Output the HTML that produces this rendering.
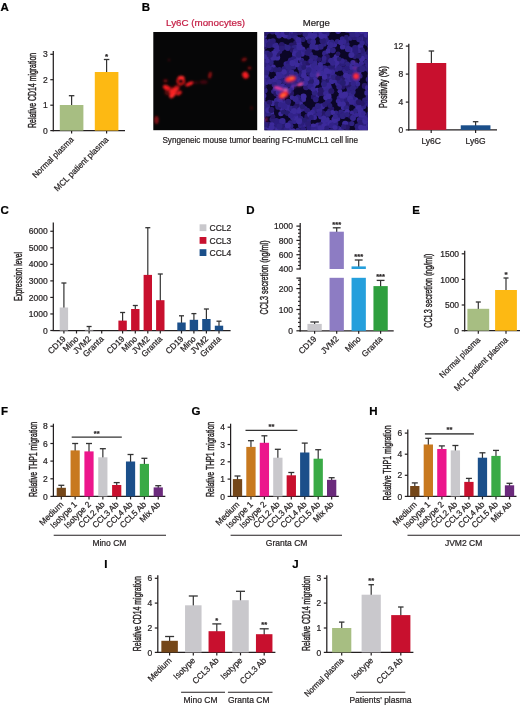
<!DOCTYPE html>
<html><head><meta charset="utf-8"><title>Figure</title>
<style>
html,body{margin:0;padding:0;background:#fff;}
body{width:520px;height:705px;overflow:hidden;font-family:"Liberation Sans",sans-serif;}
svg{display:block;font-family:"Liberation Sans",sans-serif;will-change:transform;}
svg text{stroke:currentColor;stroke-width:0.22px;paint-order:stroke fill;}
svg text.yl{stroke-width:0.42px;}
</style></head><body>
<svg width="520" height="705" viewBox="0 0 520 705">
<rect width="520" height="705" fill="#fff"/>
<text x="0.50" y="10.60" font-size="11.5" text-anchor="start" font-weight="bold" fill="#000" color="#000">A</text>
<line x1="53.30" y1="51.00" x2="53.30" y2="131.20" stroke="#231f20" stroke-width="1.25"/>
<line x1="50.30" y1="54.30" x2="53.30" y2="54.30" stroke="#231f20" stroke-width="1.2"/>
<text x="47.70" y="57.40" font-size="8.5" text-anchor="end" font-weight="normal" fill="#231f20" color="#231f20">3</text>
<line x1="50.30" y1="79.70" x2="53.30" y2="79.70" stroke="#231f20" stroke-width="1.2"/>
<text x="47.70" y="82.80" font-size="8.5" text-anchor="end" font-weight="normal" fill="#231f20" color="#231f20">2</text>
<line x1="50.30" y1="105.20" x2="53.30" y2="105.20" stroke="#231f20" stroke-width="1.2"/>
<text x="47.70" y="108.30" font-size="8.5" text-anchor="end" font-weight="normal" fill="#231f20" color="#231f20">1</text>
<line x1="50.30" y1="130.60" x2="53.30" y2="130.60" stroke="#231f20" stroke-width="1.2"/>
<text x="47.70" y="133.70" font-size="8.5" text-anchor="end" font-weight="normal" fill="#231f20" color="#231f20">0</text>
<line x1="52.70" y1="130.60" x2="125.00" y2="130.60" stroke="#231f20" stroke-width="1.25"/>
<line x1="71.60" y1="130.60" x2="71.60" y2="133.60" stroke="#231f20" stroke-width="1.2"/>
<line x1="106.60" y1="130.60" x2="106.60" y2="133.60" stroke="#231f20" stroke-width="1.2"/>
<line x1="71.60" y1="95.70" x2="71.60" y2="106.00" stroke="#333" stroke-width="1.2"/>
<line x1="68.85" y1="95.70" x2="74.35" y2="95.70" stroke="#333" stroke-width="1.3"/>
<rect x="59.80" y="105.00" width="23.60" height="25.60" fill="#a7be82"/>
<line x1="106.60" y1="59.50" x2="106.60" y2="73.00" stroke="#333" stroke-width="1.2"/>
<line x1="103.85" y1="59.50" x2="109.35" y2="59.50" stroke="#333" stroke-width="1.3"/>
<rect x="94.80" y="72.00" width="23.60" height="58.60" fill="#fdb913"/>
<text x="106.60" y="59.00" font-size="8" text-anchor="middle" font-weight="bold" fill="#231f20" color="#231f20">*</text>
<text x="36.00" y="90.40" font-size="11.5" text-anchor="middle" class="yl" fill="#231f20" color="#231f20" transform="rotate(-90 36.00 90.40)" textLength="75" lengthAdjust="spacingAndGlyphs">Relative CD14 migration</text>
<text transform="translate(74.10 140.20) rotate(-45) scale(0.95 1)" font-size="8.5" text-anchor="end" fill="#231f20" color="#231f20">Normal plasma</text>
<text transform="translate(109.10 140.20) rotate(-45) scale(0.97 1)" font-size="8.5" text-anchor="end" fill="#231f20" color="#231f20">MCL patient plasma</text>
<text x="141.70" y="10.60" font-size="11.5" text-anchor="start" font-weight="bold" fill="#000" color="#000">B</text>
<text x="205.60" y="25.60" font-size="9.6" text-anchor="middle" font-weight="normal" fill="#c41e45" color="#c41e45" textLength="79" lengthAdjust="spacingAndGlyphs">Ly6C (monocytes)</text>
<text x="316.30" y="25.60" font-size="9.6" text-anchor="middle" font-weight="normal" fill="#231f20" color="#231f20">Merge</text>
<defs><filter id="b1" x="-20%" y="-20%" width="140%" height="140%"><feGaussianBlur stdDeviation="0.9"/></filter><filter id="b2" x="-20%" y="-20%" width="140%" height="140%"><feGaussianBlur stdDeviation="0.6"/></filter><clipPath id="cL"><rect x="153.3" y="32" width="103.9" height="98.2"/></clipPath><clipPath id="cR"><rect x="264.4" y="32" width="103.5" height="98.2"/></clipPath></defs>
<rect x="153.3" y="32" width="103.9" height="98.2" fill="#060607"/>
<g clip-path="url(#cL)" filter="url(#b1)">
<circle cx="180.8" cy="81" r="3.2" fill="none" stroke="#e8151b" stroke-width="2.4" opacity="0.9"/>
<ellipse cx="181.2" cy="77.8" rx="3.4" ry="2.0" fill="#ff2a2a" opacity="1" transform="rotate(0 181.2 77.8)"/>
<ellipse cx="189.4" cy="83.9" rx="4.4" ry="1.9" fill="#f01c20" opacity="1" transform="rotate(-25 189.4 83.9)"/>
<ellipse cx="166.7" cy="87.7" rx="4.0" ry="2.4" fill="#f01c20" opacity="1" transform="rotate(25 166.7 87.7)"/>
<ellipse cx="174.0" cy="90.4" rx="5.2" ry="2.4" fill="#ff2a2a" opacity="1" transform="rotate(-30 174.0 90.4)"/>
<ellipse cx="172.6" cy="94.6" rx="4.2" ry="2.4" fill="#ff2a2a" opacity="1" transform="rotate(-50 172.6 94.6)"/>
<ellipse cx="179.0" cy="93.0" rx="3.2" ry="2.0" fill="#e8151b" opacity="0.95" transform="rotate(-35 179.0 93.0)"/>
<ellipse cx="177.0" cy="87.5" rx="3.0" ry="2.4" fill="#e8151b" opacity="0.6" transform="rotate(0 177.0 87.5)"/>
<ellipse cx="170.0" cy="91.0" rx="6.0" ry="4.0" fill="#e8151b" opacity="0.35" transform="rotate(-30 170.0 91.0)"/>
<ellipse cx="165.5" cy="80.8" rx="2.2" ry="1.6" fill="#e8151b" opacity="0.5" transform="rotate(0 165.5 80.8)"/>
<ellipse cx="210.0" cy="75.2" rx="1.7" ry="3.4" fill="#e8151b" opacity="0.6" transform="rotate(10 210.0 75.2)"/>
<ellipse cx="203.6" cy="82.0" rx="4.0" ry="2.0" fill="#e8151b" opacity="0.25" transform="rotate(0 203.6 82.0)"/>
<ellipse cx="196.0" cy="82.5" rx="3.0" ry="1.5" fill="#e8151b" opacity="0.18" transform="rotate(0 196.0 82.5)"/>
<ellipse cx="245.5" cy="75.2" rx="3.1" ry="3.6" fill="#f01c20" opacity="1" transform="rotate(-30 245.5 75.2)"/>
<ellipse cx="244.2" cy="59.5" rx="2.8" ry="1.9" fill="#e8151b" opacity="0.5" transform="rotate(-20 244.2 59.5)"/>
<ellipse cx="249.5" cy="68.0" rx="1.9" ry="1.6" fill="#e8151b" opacity="0.55" transform="rotate(0 249.5 68.0)"/>
<ellipse cx="251.5" cy="108.0" rx="1.4" ry="2.0" fill="#e8151b" opacity="0.22" transform="rotate(0 251.5 108.0)"/>
<ellipse cx="156.5" cy="120.0" rx="2.2" ry="4.0" fill="#e8151b" opacity="0.55" transform="rotate(0 156.5 120.0)"/>
<ellipse cx="169.0" cy="60.0" rx="1.4" ry="1.4" fill="#e8151b" opacity="0.18" transform="rotate(0 169.0 60.0)"/>
</g>
<rect x="264.4" y="32" width="103.5" height="98.2" fill="#0b0626"/>
<g clip-path="url(#cR)"><g filter="url(#b2)">
<circle cx="266.1" cy="82.0" r="3.0" fill="#382894"/>
<circle cx="346.2" cy="78.3" r="2.6" fill="#382894"/>
<circle cx="327.8" cy="102.1" r="3.0" fill="#2c1f7c"/>
<circle cx="309.3" cy="32.4" r="2.8" fill="#35268e"/>
<circle cx="262.1" cy="50.8" r="2.4" fill="#3a2a98"/>
<circle cx="325.8" cy="97.6" r="2.6" fill="#3d2c9c"/>
<circle cx="283.7" cy="103.2" r="3.1" fill="#35268e"/>
<circle cx="335.5" cy="80.4" r="2.8" fill="#3a2a98"/>
<circle cx="298.1" cy="83.6" r="2.5" fill="#281b70"/>
<circle cx="344.5" cy="112.8" r="2.4" fill="#35268e"/>
<circle cx="262.2" cy="59.6" r="3.0" fill="#2f2182"/>
<circle cx="293.1" cy="131.0" r="2.8" fill="#3d2c9c"/>
<circle cx="278.6" cy="96.1" r="2.7" fill="#33248a"/>
<circle cx="360.2" cy="47.1" r="3.1" fill="#3b2a9a"/>
<circle cx="315.1" cy="76.4" r="3.0" fill="#2c1f7c"/>
<circle cx="279.8" cy="30.0" r="2.8" fill="#3a2a98"/>
<circle cx="267.1" cy="53.4" r="3.0" fill="#2e2080"/>
<circle cx="352.2" cy="112.9" r="2.5" fill="#382894"/>
<circle cx="269.9" cy="41.5" r="2.7" fill="#2e2080"/>
<circle cx="336.2" cy="69.2" r="2.6" fill="#33248a"/>
<circle cx="348.1" cy="86.4" r="2.8" fill="#261968"/>
<circle cx="329.0" cy="125.6" r="2.5" fill="#3b2a9a"/>
<circle cx="281.6" cy="107.8" r="3.1" fill="#3b2a9a"/>
<circle cx="350.1" cy="30.2" r="3.1" fill="#382894"/>
<circle cx="363.3" cy="53.8" r="3.0" fill="#2e2080"/>
<circle cx="364.8" cy="100.1" r="2.7" fill="#2a1c74"/>
<circle cx="362.3" cy="116.8" r="2.8" fill="#3d2c9c"/>
<circle cx="306.9" cy="67.0" r="3.2" fill="#3b2a9a"/>
<circle cx="287.8" cy="104.8" r="2.6" fill="#33248a"/>
<circle cx="310.3" cy="54.1" r="2.6" fill="#2e2080"/>
<circle cx="366.0" cy="103.1" r="2.7" fill="#2c1f7c"/>
<circle cx="360.5" cy="114.1" r="3.2" fill="#3a2a98"/>
<circle cx="289.4" cy="129.3" r="2.4" fill="#3a2a98"/>
<circle cx="339.3" cy="98.0" r="2.6" fill="#33248a"/>
<circle cx="272.5" cy="103.3" r="2.8" fill="#3a2a98"/>
<circle cx="262.0" cy="132.3" r="2.8" fill="#2c1f7c"/>
<circle cx="327.2" cy="59.7" r="3.0" fill="#261968"/>
<circle cx="312.6" cy="38.5" r="2.5" fill="#3a2a98"/>
<circle cx="329.4" cy="78.6" r="3.0" fill="#2f2182"/>
<circle cx="282.3" cy="99.0" r="2.6" fill="#2a1c74"/>
<circle cx="362.5" cy="36.7" r="2.9" fill="#2f2182"/>
<circle cx="369.4" cy="95.0" r="2.8" fill="#3d2c9c"/>
<circle cx="277.1" cy="57.5" r="3.1" fill="#3b2a9a"/>
<circle cx="362.6" cy="119.8" r="2.6" fill="#35268e"/>
<circle cx="368.7" cy="79.6" r="3.0" fill="#2f2182"/>
<circle cx="353.5" cy="30.8" r="3.0" fill="#3d2c9c"/>
<circle cx="334.4" cy="59.0" r="2.4" fill="#382894"/>
<circle cx="301.1" cy="131.9" r="2.7" fill="#382894"/>
<circle cx="322.1" cy="106.3" r="3.1" fill="#382894"/>
<circle cx="348.4" cy="93.3" r="2.8" fill="#33248a"/>
<circle cx="329.2" cy="68.2" r="2.6" fill="#2a1c74"/>
<circle cx="368.3" cy="121.7" r="3.1" fill="#33248a"/>
<circle cx="356.1" cy="115.1" r="2.4" fill="#382894"/>
<circle cx="343.1" cy="97.7" r="3.0" fill="#3b2a9a"/>
<circle cx="317.4" cy="90.6" r="2.9" fill="#3d2c9c"/>
<circle cx="295.3" cy="74.1" r="2.7" fill="#2e2080"/>
<circle cx="298.5" cy="79.7" r="2.8" fill="#3a2a98"/>
<circle cx="316.3" cy="95.6" r="3.1" fill="#382894"/>
<circle cx="303.3" cy="79.3" r="3.0" fill="#2c1f7c"/>
<circle cx="350.0" cy="83.2" r="2.5" fill="#281b70"/>
<circle cx="282.5" cy="85.9" r="2.7" fill="#3a2a98"/>
<circle cx="298.7" cy="114.8" r="2.5" fill="#2a1c74"/>
<circle cx="349.6" cy="66.3" r="3.1" fill="#3b2a9a"/>
<circle cx="267.7" cy="128.3" r="3.0" fill="#3d2c9c"/>
<circle cx="289.7" cy="33.2" r="3.1" fill="#35268e"/>
<circle cx="302.3" cy="49.6" r="3.1" fill="#3b2a9a"/>
<circle cx="297.0" cy="45.5" r="2.5" fill="#3a2a98"/>
<circle cx="273.6" cy="91.6" r="2.5" fill="#2f2182"/>
<circle cx="323.6" cy="61.7" r="2.5" fill="#2e2080"/>
<circle cx="324.4" cy="68.4" r="3.2" fill="#33248a"/>
<circle cx="355.8" cy="110.6" r="2.6" fill="#2f2182"/>
<circle cx="354.7" cy="56.8" r="2.4" fill="#2a1c74"/>
<circle cx="367.6" cy="126.4" r="2.6" fill="#3a2a98"/>
<circle cx="360.1" cy="132.8" r="2.8" fill="#2f2182"/>
<circle cx="327.1" cy="123.1" r="3.2" fill="#382894"/>
<circle cx="349.9" cy="79.2" r="3.0" fill="#3a2a98"/>
<circle cx="355.7" cy="99.9" r="2.6" fill="#3a2a98"/>
<circle cx="287.4" cy="107.9" r="3.0" fill="#382894"/>
<circle cx="291.8" cy="45.7" r="3.2" fill="#261968"/>
<circle cx="361.9" cy="50.4" r="3.0" fill="#2a1c74"/>
<circle cx="369.4" cy="55.5" r="3.1" fill="#3a2a98"/>
<circle cx="332.8" cy="69.2" r="2.5" fill="#2c1f7c"/>
<circle cx="307.9" cy="37.5" r="2.9" fill="#3a2a98"/>
<circle cx="350.4" cy="116.2" r="2.5" fill="#261968"/>
<circle cx="285.0" cy="81.6" r="2.6" fill="#2f2182"/>
<circle cx="300.9" cy="100.7" r="2.9" fill="#281b70"/>
<circle cx="330.3" cy="122.6" r="2.7" fill="#3d2c9c"/>
<circle cx="324.5" cy="87.2" r="2.7" fill="#3b2a9a"/>
<circle cx="279.3" cy="121.9" r="2.8" fill="#2e2080"/>
<circle cx="336.0" cy="112.9" r="2.4" fill="#33248a"/>
<circle cx="301.6" cy="60.4" r="2.6" fill="#2e2080"/>
<circle cx="309.8" cy="41.2" r="2.7" fill="#2a1c74"/>
<circle cx="360.0" cy="76.0" r="2.6" fill="#2f2182"/>
<circle cx="338.0" cy="128.1" r="2.6" fill="#2c1f7c"/>
<circle cx="262.4" cy="67.5" r="3.2" fill="#2f2182"/>
<circle cx="330.7" cy="75.7" r="2.6" fill="#382894"/>
<circle cx="265.7" cy="104.0" r="2.7" fill="#33248a"/>
<circle cx="301.1" cy="125.7" r="3.1" fill="#2e2080"/>
<circle cx="301.2" cy="71.1" r="2.7" fill="#281b70"/>
<circle cx="346.7" cy="44.5" r="2.9" fill="#2f2182"/>
<circle cx="363.1" cy="125.1" r="2.9" fill="#2f2182"/>
<circle cx="327.4" cy="131.9" r="3.0" fill="#3a2a98"/>
<circle cx="304.8" cy="132.2" r="2.8" fill="#281b70"/>
<circle cx="317.9" cy="125.4" r="3.0" fill="#382894"/>
<circle cx="336.4" cy="56.7" r="2.7" fill="#3b2a9a"/>
<circle cx="305.0" cy="124.4" r="2.5" fill="#35268e"/>
<circle cx="294.3" cy="121.1" r="2.9" fill="#33248a"/>
<circle cx="276.8" cy="100.7" r="2.9" fill="#35268e"/>
<circle cx="359.5" cy="119.7" r="2.7" fill="#33248a"/>
<circle cx="278.3" cy="106.7" r="3.1" fill="#2a1c74"/>
<circle cx="335.1" cy="123.4" r="3.2" fill="#2e2080"/>
<circle cx="345.2" cy="61.7" r="2.4" fill="#2a1c74"/>
<circle cx="361.4" cy="63.4" r="2.6" fill="#382894"/>
<circle cx="295.9" cy="42.6" r="2.6" fill="#261968"/>
<circle cx="279.7" cy="101.6" r="3.2" fill="#3b2a9a"/>
<circle cx="308.6" cy="83.1" r="2.7" fill="#2f2182"/>
<circle cx="294.6" cy="77.5" r="2.9" fill="#2f2182"/>
<circle cx="314.8" cy="114.1" r="2.5" fill="#2f2182"/>
<circle cx="329.8" cy="88.2" r="2.6" fill="#2f2182"/>
<circle cx="323.5" cy="121.4" r="2.7" fill="#3b2a9a"/>
<circle cx="328.9" cy="42.4" r="2.7" fill="#3a2a98"/>
<circle cx="360.5" cy="122.8" r="3.0" fill="#2a1c74"/>
<circle cx="267.3" cy="78.8" r="2.8" fill="#2f2182"/>
<circle cx="325.7" cy="39.5" r="3.0" fill="#2f2182"/>
<circle cx="300.5" cy="118.4" r="2.7" fill="#2e2080"/>
<circle cx="338.6" cy="132.1" r="2.6" fill="#382894"/>
<circle cx="310.0" cy="66.1" r="3.0" fill="#3d2c9c"/>
<circle cx="272.4" cy="44.8" r="2.7" fill="#2e2080"/>
<circle cx="346.3" cy="37.1" r="2.4" fill="#281b70"/>
<circle cx="355.7" cy="86.3" r="2.7" fill="#2a1c74"/>
<circle cx="362.6" cy="40.1" r="2.6" fill="#35268e"/>
<circle cx="269.4" cy="102.5" r="2.8" fill="#261968"/>
<circle cx="262.3" cy="31.0" r="3.1" fill="#281b70"/>
<circle cx="309.0" cy="50.2" r="2.8" fill="#2a1c74"/>
<circle cx="348.3" cy="101.2" r="2.4" fill="#3b2a9a"/>
<circle cx="327.7" cy="74.4" r="2.5" fill="#2c1f7c"/>
<circle cx="262.6" cy="92.6" r="3.0" fill="#2c1f7c"/>
<circle cx="319.9" cy="67.7" r="3.1" fill="#3a2a98"/>
<circle cx="291.7" cy="88.6" r="2.5" fill="#35268e"/>
<circle cx="316.3" cy="82.2" r="3.2" fill="#3d2c9c"/>
<circle cx="276.1" cy="132.9" r="2.8" fill="#33248a"/>
<circle cx="329.5" cy="110.6" r="2.4" fill="#2a1c74"/>
<circle cx="352.8" cy="68.6" r="3.2" fill="#3b2a9a"/>
<circle cx="313.3" cy="126.3" r="2.9" fill="#3d2c9c"/>
<circle cx="267.4" cy="57.2" r="2.8" fill="#3b2a9a"/>
<circle cx="300.1" cy="104.4" r="2.9" fill="#3b2a9a"/>
<circle cx="365.3" cy="121.1" r="3.1" fill="#3b2a9a"/>
<circle cx="274.6" cy="128.3" r="2.9" fill="#33248a"/>
<circle cx="280.8" cy="113.7" r="2.5" fill="#3d2c9c"/>
<circle cx="363.6" cy="106.5" r="2.7" fill="#2f2182"/>
<circle cx="342.5" cy="77.9" r="2.6" fill="#261968"/>
<circle cx="285.9" cy="87.3" r="2.6" fill="#33248a"/>
<circle cx="276.8" cy="78.2" r="2.7" fill="#3d2c9c"/>
<circle cx="345.0" cy="101.3" r="2.8" fill="#2c1f7c"/>
<circle cx="364.7" cy="86.1" r="3.0" fill="#261968"/>
<circle cx="291.0" cy="75.7" r="2.7" fill="#3a2a98"/>
<circle cx="324.7" cy="90.5" r="3.2" fill="#382894"/>
<circle cx="301.5" cy="64.8" r="2.8" fill="#35268e"/>
<circle cx="320.7" cy="90.1" r="2.8" fill="#261968"/>
<circle cx="283.5" cy="128.3" r="3.1" fill="#281b70"/>
<circle cx="311.7" cy="130.0" r="3.2" fill="#33248a"/>
<circle cx="265.1" cy="69.2" r="2.7" fill="#33248a"/>
<circle cx="320.8" cy="73.3" r="3.0" fill="#3b2a9a"/>
<circle cx="294.4" cy="47.7" r="2.8" fill="#2f2182"/>
<circle cx="304.8" cy="108.7" r="2.6" fill="#2e2080"/>
<circle cx="320.8" cy="124.4" r="2.5" fill="#2a1c74"/>
<circle cx="324.1" cy="80.6" r="2.6" fill="#2a1c74"/>
<circle cx="362.1" cy="103.4" r="2.7" fill="#261968"/>
<circle cx="328.2" cy="82.1" r="2.6" fill="#281b70"/>
<circle cx="314.1" cy="80.0" r="3.0" fill="#3d2c9c"/>
<circle cx="275.6" cy="88.6" r="2.9" fill="#3a2a98"/>
<circle cx="342.2" cy="86.4" r="3.2" fill="#261968"/>
<circle cx="358.3" cy="106.8" r="3.1" fill="#3b2a9a"/>
<circle cx="353.0" cy="117.9" r="3.0" fill="#35268e"/>
<circle cx="292.3" cy="35.3" r="2.9" fill="#2c1f7c"/>
<circle cx="341.3" cy="129.2" r="2.5" fill="#3a2a98"/>
<circle cx="295.4" cy="117.4" r="2.9" fill="#3b2a9a"/>
<circle cx="313.0" cy="84.7" r="3.1" fill="#3a2a98"/>
<circle cx="276.2" cy="121.2" r="3.1" fill="#2c1f7c"/>
<circle cx="358.0" cy="129.9" r="3.0" fill="#2c1f7c"/>
<circle cx="316.5" cy="73.7" r="3.2" fill="#3d2c9c"/>
<circle cx="348.8" cy="132.4" r="2.9" fill="#2f2182"/>
<circle cx="369.4" cy="52.3" r="3.2" fill="#2a1c74"/>
<circle cx="342.3" cy="38.7" r="2.5" fill="#33248a"/>
<circle cx="276.7" cy="124.7" r="2.6" fill="#2c1f7c"/>
<circle cx="306.1" cy="87.3" r="3.0" fill="#2a1c74"/>
<circle cx="315.0" cy="62.8" r="2.5" fill="#35268e"/>
<circle cx="331.9" cy="81.3" r="2.8" fill="#3b2a9a"/>
<circle cx="335.3" cy="64.8" r="3.1" fill="#3a2a98"/>
<circle cx="291.2" cy="93.1" r="2.9" fill="#261968"/>
<circle cx="314.5" cy="117.4" r="2.5" fill="#382894"/>
<circle cx="287.8" cy="47.8" r="3.1" fill="#2e2080"/>
<circle cx="268.0" cy="64.3" r="2.9" fill="#33248a"/>
<circle cx="322.8" cy="131.5" r="2.5" fill="#3a2a98"/>
<circle cx="353.2" cy="73.8" r="2.8" fill="#33248a"/>
<circle cx="325.0" cy="53.5" r="2.9" fill="#33248a"/>
<circle cx="279.2" cy="86.8" r="2.5" fill="#382894"/>
<circle cx="342.7" cy="64.2" r="2.5" fill="#2c1f7c"/>
<circle cx="265.6" cy="75.3" r="2.8" fill="#3a2a98"/>
<circle cx="334.2" cy="44.5" r="2.9" fill="#382894"/>
<circle cx="317.9" cy="34.3" r="2.7" fill="#2c1f7c"/>
<circle cx="337.7" cy="118.8" r="2.6" fill="#382894"/>
<circle cx="281.2" cy="72.5" r="2.9" fill="#3a2a98"/>
<circle cx="331.9" cy="108.8" r="2.4" fill="#261968"/>
<circle cx="271.0" cy="59.3" r="2.8" fill="#2a1c74"/>
<circle cx="306.3" cy="31.1" r="2.9" fill="#33248a"/>
<circle cx="366.7" cy="57.0" r="2.6" fill="#33248a"/>
<circle cx="290.2" cy="111.4" r="2.4" fill="#3a2a98"/>
<circle cx="267.5" cy="106.8" r="2.7" fill="#2f2182"/>
<circle cx="281.8" cy="93.3" r="3.1" fill="#2f2182"/>
<circle cx="316.8" cy="47.5" r="3.1" fill="#382894"/>
<circle cx="353.1" cy="98.2" r="2.5" fill="#2f2182"/>
<circle cx="286.3" cy="64.1" r="2.8" fill="#33248a"/>
<circle cx="332.5" cy="112.4" r="2.5" fill="#3d2c9c"/>
<circle cx="276.0" cy="93.7" r="2.7" fill="#261968"/>
<circle cx="272.3" cy="119.5" r="2.8" fill="#2a1c74"/>
<circle cx="311.0" cy="81.2" r="2.9" fill="#281b70"/>
<circle cx="319.6" cy="131.2" r="2.9" fill="#3a2a98"/>
<circle cx="301.5" cy="83.3" r="3.0" fill="#2e2080"/>
<circle cx="288.9" cy="70.1" r="2.8" fill="#2f2182"/>
<circle cx="288.2" cy="101.8" r="3.0" fill="#2a1c74"/>
<circle cx="321.2" cy="32.2" r="2.8" fill="#3d2c9c"/>
<circle cx="345.6" cy="132.5" r="2.6" fill="#33248a"/>
<circle cx="268.8" cy="124.8" r="3.1" fill="#261968"/>
<circle cx="349.1" cy="76.3" r="2.7" fill="#3d2c9c"/>
<circle cx="358.5" cy="72.5" r="2.9" fill="#3a2a98"/>
<circle cx="369.9" cy="118.6" r="2.9" fill="#281b70"/>
<circle cx="346.7" cy="40.9" r="2.4" fill="#281b70"/>
<circle cx="275.7" cy="45.6" r="3.0" fill="#35268e"/>
<circle cx="347.1" cy="30.1" r="3.0" fill="#2a1c74"/>
<circle cx="362.0" cy="58.8" r="3.0" fill="#3d2c9c"/>
<circle cx="365.2" cy="32.0" r="2.6" fill="#382894"/>
<circle cx="315.5" cy="58.2" r="3.0" fill="#2e2080"/>
<circle cx="360.6" cy="110.2" r="2.9" fill="#3b2a9a"/>
<circle cx="344.0" cy="69.2" r="2.7" fill="#2c1f7c"/>
<circle cx="369.6" cy="45.5" r="2.8" fill="#2e2080"/>
<circle cx="264.3" cy="36.1" r="2.5" fill="#3a2a98"/>
<circle cx="334.1" cy="76.9" r="3.1" fill="#2e2080"/>
<circle cx="312.0" cy="69.0" r="3.1" fill="#3a2a98"/>
<circle cx="284.2" cy="30.3" r="2.9" fill="#2c1f7c"/>
<circle cx="343.5" cy="107.6" r="2.7" fill="#3a2a98"/>
<circle cx="309.6" cy="132.3" r="2.6" fill="#3d2c9c"/>
<circle cx="369.4" cy="132.4" r="2.6" fill="#3b2a9a"/>
<circle cx="298.7" cy="50.3" r="2.6" fill="#2f2182"/>
<circle cx="369.4" cy="129.0" r="2.6" fill="#35268e"/>
<circle cx="326.5" cy="33.5" r="3.1" fill="#2f2182"/>
<circle cx="278.1" cy="130.0" r="2.8" fill="#3b2a9a"/>
<circle cx="308.2" cy="120.3" r="2.7" fill="#2c1f7c"/>
<circle cx="292.0" cy="31.0" r="2.5" fill="#382894"/>
<circle cx="330.8" cy="60.6" r="2.8" fill="#35268e"/>
<circle cx="302.9" cy="30.8" r="2.7" fill="#2c1f7c"/>
<circle cx="262.4" cy="73.2" r="2.9" fill="#2f2182"/>
<circle cx="283.6" cy="124.7" r="2.9" fill="#281b70"/>
<circle cx="332.5" cy="72.3" r="2.7" fill="#382894"/>
<circle cx="314.1" cy="35.6" r="3.1" fill="#3b2a9a"/>
<circle cx="358.4" cy="50.9" r="2.5" fill="#35268e"/>
<circle cx="302.8" cy="39.4" r="2.6" fill="#281b70"/>
<circle cx="329.5" cy="71.7" r="2.4" fill="#3b2a9a"/>
<circle cx="292.4" cy="117.9" r="2.4" fill="#35268e"/>
<circle cx="324.1" cy="126.4" r="3.1" fill="#3d2c9c"/>
<circle cx="270.8" cy="62.5" r="2.9" fill="#2e2080"/>
<circle cx="301.4" cy="109.6" r="2.4" fill="#33248a"/>
<circle cx="339.9" cy="91.3" r="2.4" fill="#3d2c9c"/>
<circle cx="291.5" cy="85.3" r="2.5" fill="#3b2a9a"/>
<circle cx="338.1" cy="30.8" r="3.1" fill="#3d2c9c"/>
<circle cx="315.2" cy="109.5" r="3.1" fill="#2e2080"/>
<circle cx="356.3" cy="32.2" r="2.7" fill="#3a2a98"/>
<circle cx="280.8" cy="80.0" r="3.1" fill="#2c1f7c"/>
<circle cx="323.8" cy="43.7" r="3.0" fill="#2e2080"/>
<circle cx="304.2" cy="71.7" r="2.7" fill="#3a2a98"/>
<circle cx="292.3" cy="50.3" r="2.5" fill="#261968"/>
<circle cx="343.8" cy="41.7" r="2.6" fill="#35268e"/>
<circle cx="295.7" cy="51.0" r="2.8" fill="#35268e"/>
<circle cx="304.9" cy="63.2" r="2.7" fill="#2a1c74"/>
<circle cx="265.1" cy="32.9" r="3.0" fill="#261968"/>
<circle cx="263.7" cy="53.5" r="3.2" fill="#2f2182"/>
<circle cx="307.4" cy="116.5" r="3.0" fill="#261968"/>
<circle cx="349.7" cy="90.0" r="3.0" fill="#2e2080"/>
<circle cx="329.4" cy="30.0" r="2.6" fill="#2a1c74"/>
<circle cx="289.2" cy="63.4" r="3.1" fill="#2c1f7c"/>
<circle cx="263.5" cy="112.6" r="2.8" fill="#33248a"/>
<circle cx="297.9" cy="130.2" r="2.5" fill="#2e2080"/>
<circle cx="295.3" cy="114.1" r="2.5" fill="#33248a"/>
<circle cx="321.0" cy="116.5" r="2.9" fill="#382894"/>
<circle cx="325.0" cy="36.4" r="2.4" fill="#3b2a9a"/>
<circle cx="273.0" cy="41.0" r="2.8" fill="#2a1c74"/>
<circle cx="337.4" cy="41.5" r="2.6" fill="#2e2080"/>
<circle cx="369.4" cy="104.6" r="3.0" fill="#35268e"/>
<circle cx="327.0" cy="56.7" r="2.8" fill="#261968"/>
<circle cx="282.9" cy="76.0" r="2.5" fill="#35268e"/>
<circle cx="346.0" cy="82.7" r="3.0" fill="#3a2a98"/>
<circle cx="291.9" cy="82.3" r="2.8" fill="#35268e"/>
<circle cx="326.8" cy="119.6" r="2.9" fill="#3a2a98"/>
<circle cx="341.4" cy="101.0" r="2.8" fill="#33248a"/>
<circle cx="300.3" cy="67.8" r="3.0" fill="#2f2182"/>
<circle cx="324.4" cy="73.4" r="2.5" fill="#3a2a98"/>
<circle cx="271.5" cy="113.1" r="2.6" fill="#3d2c9c"/>
<circle cx="347.5" cy="96.6" r="2.7" fill="#2c1f7c"/>
<circle cx="339.4" cy="62.6" r="2.6" fill="#2c1f7c"/>
<circle cx="272.3" cy="130.6" r="2.6" fill="#281b70"/>
<circle cx="369.6" cy="71.1" r="2.8" fill="#281b70"/>
<circle cx="279.5" cy="51.0" r="2.9" fill="#2a1c74"/>
<circle cx="299.0" cy="43.2" r="2.5" fill="#3d2c9c"/>
<circle cx="268.9" cy="131.5" r="3.2" fill="#382894"/>
<circle cx="284.5" cy="46.7" r="2.9" fill="#2f2182"/>
<circle cx="332.0" cy="125.6" r="3.1" fill="#33248a"/>
<circle cx="303.6" cy="129.3" r="2.5" fill="#2c1f7c"/>
<circle cx="367.8" cy="88.0" r="2.9" fill="#382894"/>
<circle cx="293.2" cy="66.6" r="3.2" fill="#2e2080"/>
<circle cx="304.5" cy="51.9" r="2.7" fill="#33248a"/>
<circle cx="287.5" cy="113.3" r="2.7" fill="#281b70"/>
<circle cx="322.6" cy="40.8" r="3.1" fill="#2a1c74"/>
<circle cx="357.6" cy="83.8" r="2.6" fill="#35268e"/>
<circle cx="341.5" cy="132.9" r="2.8" fill="#3d2c9c"/>
<circle cx="262.5" cy="120.9" r="3.1" fill="#382894"/>
<circle cx="337.8" cy="83.6" r="2.7" fill="#382894"/>
<circle cx="366.5" cy="131.2" r="3.0" fill="#382894"/>
<circle cx="347.1" cy="104.4" r="2.9" fill="#261968"/>
<circle cx="264.5" cy="47.0" r="2.6" fill="#261968"/>
<circle cx="334.6" cy="119.8" r="3.2" fill="#3d2c9c"/>
<circle cx="329.5" cy="47.9" r="2.7" fill="#33248a"/>
<circle cx="322.3" cy="113.5" r="3.2" fill="#261968"/>
<circle cx="273.3" cy="67.0" r="2.5" fill="#3d2c9c"/>
<circle cx="360.8" cy="34.2" r="2.6" fill="#2c1f7c"/>
<circle cx="360.3" cy="66.4" r="2.9" fill="#35268e"/>
<circle cx="284.0" cy="132.7" r="3.0" fill="#33248a"/>
<circle cx="310.5" cy="86.6" r="3.1" fill="#33248a"/>
<circle cx="265.9" cy="44.0" r="2.9" fill="#3b2a9a"/>
<circle cx="365.9" cy="38.0" r="2.9" fill="#281b70"/>
<circle cx="301.8" cy="122.5" r="3.1" fill="#2c1f7c"/>
<circle cx="308.1" cy="63.1" r="2.5" fill="#261968"/>
<circle cx="336.4" cy="62.0" r="3.2" fill="#3d2c9c"/>
<circle cx="312.4" cy="111.9" r="2.5" fill="#382894"/>
<circle cx="287.7" cy="132.7" r="3.0" fill="#3b2a9a"/>
<circle cx="288.7" cy="36.7" r="2.7" fill="#2e2080"/>
<circle cx="355.3" cy="71.3" r="3.2" fill="#35268e"/>
<circle cx="327.7" cy="90.5" r="2.5" fill="#35268e"/>
<circle cx="307.3" cy="110.6" r="2.8" fill="#2a1c74"/>
<circle cx="310.7" cy="35.2" r="2.9" fill="#3a2a98"/>
<circle cx="286.6" cy="73.7" r="2.6" fill="#2f2182"/>
<circle cx="346.5" cy="108.1" r="2.8" fill="#2f2182"/>
<circle cx="295.9" cy="33.0" r="2.8" fill="#2a1c74"/>
<circle cx="290.4" cy="122.8" r="2.6" fill="#2e2080"/>
<circle cx="297.9" cy="108.2" r="2.5" fill="#3b2a9a"/>
<circle cx="275.9" cy="30.1" r="3.1" fill="#2f2182"/>
<circle cx="357.4" cy="79.0" r="2.8" fill="#382894"/>
<circle cx="361.5" cy="31.1" r="3.0" fill="#3b2a9a"/>
<circle cx="350.3" cy="38.2" r="2.5" fill="#2e2080"/>
<circle cx="278.3" cy="48.2" r="2.9" fill="#382894"/>
<circle cx="297.0" cy="105.2" r="2.7" fill="#261968"/>
<circle cx="351.4" cy="50.0" r="2.7" fill="#3d2c9c"/>
<circle cx="367.1" cy="43.6" r="2.5" fill="#2a1c74"/>
<circle cx="313.2" cy="41.9" r="2.8" fill="#35268e"/>
<circle cx="319.2" cy="70.8" r="2.4" fill="#3a2a98"/>
<circle cx="328.2" cy="50.9" r="2.6" fill="#3a2a98"/>
<circle cx="354.5" cy="36.9" r="3.2" fill="#2a1c74"/>
<circle cx="352.8" cy="78.2" r="2.9" fill="#35268e"/>
<circle cx="302.5" cy="106.6" r="2.7" fill="#281b70"/>
<circle cx="295.8" cy="132.5" r="2.4" fill="#2c1f7c"/>
<circle cx="285.3" cy="35.9" r="2.5" fill="#3a2a98"/>
<circle cx="315.8" cy="129.2" r="2.7" fill="#33248a"/>
<circle cx="291.0" cy="125.9" r="2.5" fill="#2e2080"/>
<circle cx="278.4" cy="82.6" r="3.0" fill="#35268e"/>
<circle cx="307.3" cy="53.0" r="2.7" fill="#2a1c74"/>
<circle cx="280.9" cy="132.2" r="3.1" fill="#2f2182"/>
<circle cx="355.4" cy="103.4" r="2.8" fill="#33248a"/>
<circle cx="359.0" cy="39.5" r="2.8" fill="#2e2080"/>
<circle cx="368.5" cy="31.0" r="2.9" fill="#3a2a98"/>
<circle cx="339.3" cy="67.9" r="2.9" fill="#2f2182"/>
<circle cx="286.4" cy="129.3" r="2.9" fill="#2f2182"/>
<circle cx="348.1" cy="49.0" r="3.2" fill="#35268e"/>
<circle cx="312.2" cy="57.3" r="2.8" fill="#2e2080"/>
<circle cx="303.7" cy="99.7" r="2.4" fill="#3a2a98"/>
<circle cx="284.5" cy="90.1" r="3.0" fill="#3d2c9c"/>
<circle cx="284.5" cy="68.8" r="2.9" fill="#2c1f7c"/>
<circle cx="302.1" cy="54.2" r="2.5" fill="#382894"/>
<circle cx="324.6" cy="77.0" r="2.8" fill="#3d2c9c"/>
<circle cx="294.7" cy="80.5" r="2.5" fill="#33248a"/>
<circle cx="339.2" cy="115.3" r="2.5" fill="#2c1f7c"/>
<circle cx="272.9" cy="116.4" r="2.5" fill="#261968"/>
<circle cx="365.5" cy="41.0" r="2.7" fill="#281b70"/>
<circle cx="292.1" cy="97.6" r="2.4" fill="#382894"/>
<circle cx="348.5" cy="123.9" r="2.5" fill="#261968"/>
<circle cx="265.0" cy="124.7" r="3.0" fill="#2c1f7c"/>
<circle cx="335.3" cy="116.5" r="2.6" fill="#35268e"/>
<circle cx="291.9" cy="79.0" r="3.0" fill="#2c1f7c"/>
<circle cx="345.2" cy="123.8" r="3.1" fill="#3b2a9a"/>
<circle cx="288.7" cy="83.9" r="3.1" fill="#2c1f7c"/>
<circle cx="290.6" cy="115.4" r="2.6" fill="#33248a"/>
<circle cx="262.3" cy="104.3" r="2.7" fill="#2c1f7c"/>
<circle cx="339.8" cy="80.9" r="3.0" fill="#2c1f7c"/>
<circle cx="319.4" cy="110.1" r="2.9" fill="#35268e"/>
<circle cx="266.6" cy="72.4" r="2.8" fill="#2e2080"/>
<circle cx="320.0" cy="127.7" r="2.5" fill="#3a2a98"/>
<circle cx="335.0" cy="131.4" r="2.9" fill="#281b70"/>
<circle cx="310.8" cy="77.2" r="2.6" fill="#2f2182"/>
<circle cx="346.9" cy="127.3" r="2.9" fill="#261968"/>
<circle cx="294.8" cy="83.9" r="2.6" fill="#2e2080"/>
<circle cx="351.6" cy="94.7" r="2.8" fill="#35268e"/>
<circle cx="305.2" cy="83.3" r="2.7" fill="#3b2a9a"/>
<circle cx="369.9" cy="90.7" r="3.1" fill="#2f2182"/>
<circle cx="356.3" cy="65.5" r="2.9" fill="#382894"/>
<circle cx="335.0" cy="127.4" r="2.5" fill="#3b2a9a"/>
<circle cx="283.4" cy="112.1" r="2.5" fill="#281b70"/>
<circle cx="346.0" cy="71.6" r="3.1" fill="#33248a"/>
<circle cx="309.0" cy="73.5" r="2.4" fill="#281b70"/>
<circle cx="295.1" cy="54.2" r="3.1" fill="#3b2a9a"/>
<circle cx="263.3" cy="80.1" r="2.4" fill="#3a2a98"/>
<circle cx="273.7" cy="80.5" r="2.6" fill="#382894"/>
<circle cx="341.0" cy="112.4" r="2.8" fill="#2e2080"/>
<circle cx="325.0" cy="104.5" r="2.7" fill="#2a1c74"/>
<circle cx="277.4" cy="54.1" r="2.6" fill="#261968"/>
<circle cx="318.9" cy="30.0" r="2.5" fill="#33248a"/>
<circle cx="312.5" cy="74.4" r="2.9" fill="#3a2a98"/>
<circle cx="281.3" cy="89.8" r="2.7" fill="#35268e"/>
<circle cx="270.1" cy="81.6" r="2.8" fill="#35268e"/>
<circle cx="369.8" cy="83.3" r="3.0" fill="#281b70"/>
<circle cx="264.7" cy="90.4" r="2.9" fill="#2f2182"/>
<circle cx="313.4" cy="96.9" r="2.6" fill="#261968"/>
<circle cx="342.1" cy="60.9" r="2.6" fill="#33248a"/>
<circle cx="276.1" cy="50.8" r="2.8" fill="#382894"/>
<circle cx="295.6" cy="37.4" r="2.5" fill="#2e2080"/>
<circle cx="353.0" cy="88.1" r="3.1" fill="#2f2182"/>
<circle cx="346.9" cy="68.1" r="2.8" fill="#2c1f7c"/>
<circle cx="342.9" cy="82.9" r="2.8" fill="#281b70"/>
<circle cx="347.3" cy="111.4" r="2.5" fill="#3d2c9c"/>
<circle cx="278.1" cy="73.1" r="2.5" fill="#382894"/>
<circle cx="268.9" cy="44.9" r="3.2" fill="#2a1c74"/>
<circle cx="355.6" cy="81.3" r="2.8" fill="#3a2a98"/>
<circle cx="262.4" cy="38.9" r="2.6" fill="#2f2182"/>
<circle cx="324.0" cy="58.2" r="2.5" fill="#33248a"/>
<circle cx="311.3" cy="30.1" r="2.4" fill="#281b70"/>
<circle cx="268.0" cy="113.5" r="3.1" fill="#2e2080"/>
<circle cx="331.3" cy="91.3" r="3.0" fill="#261968"/>
<circle cx="338.1" cy="101.1" r="2.4" fill="#382894"/>
<circle cx="264.9" cy="41.0" r="2.7" fill="#33248a"/>
<circle cx="303.5" cy="96.5" r="3.1" fill="#3b2a9a"/>
<circle cx="290.8" cy="60.5" r="2.9" fill="#2c1f7c"/>
<circle cx="288.8" cy="91.0" r="2.7" fill="#382894"/>
<circle cx="320.2" cy="64.7" r="2.7" fill="#3a2a98"/>
<circle cx="329.8" cy="105.6" r="2.5" fill="#281b70"/>
<circle cx="272.0" cy="124.3" r="2.4" fill="#3d2c9c"/>
<circle cx="293.7" cy="58.8" r="2.7" fill="#2c1f7c"/>
<circle cx="328.3" cy="85.5" r="3.1" fill="#382894"/>
<circle cx="314.1" cy="65.6" r="3.1" fill="#35268e"/>
<circle cx="297.5" cy="76.6" r="2.6" fill="#35268e"/>
<circle cx="363.2" cy="131.8" r="2.5" fill="#2f2182"/>
<circle cx="282.4" cy="121.1" r="3.2" fill="#35268e"/>
<circle cx="273.9" cy="53.4" r="3.0" fill="#3b2a9a"/>
<circle cx="263.3" cy="115.6" r="2.6" fill="#33248a"/>
<circle cx="295.7" cy="61.4" r="2.6" fill="#382894"/>
<circle cx="325.4" cy="115.4" r="2.5" fill="#281b70"/>
<circle cx="362.1" cy="43.1" r="2.7" fill="#35268e"/>
<circle cx="265.4" cy="131.1" r="2.5" fill="#281b70"/>
<circle cx="310.1" cy="114.4" r="3.0" fill="#3b2a9a"/>
<circle cx="263.8" cy="86.5" r="2.7" fill="#261968"/>
<circle cx="297.8" cy="97.1" r="2.5" fill="#2c1f7c"/>
<circle cx="272.6" cy="31.6" r="3.0" fill="#2a1c74"/>
<circle cx="308.1" cy="123.8" r="2.9" fill="#2a1c74"/>
<circle cx="350.0" cy="98.4" r="3.0" fill="#3a2a98"/>
<circle cx="299.1" cy="121.2" r="3.1" fill="#3a2a98"/>
<circle cx="284.4" cy="106.5" r="3.0" fill="#33248a"/>
<circle cx="315.8" cy="99.4" r="2.8" fill="#2c1f7c"/>
<circle cx="341.4" cy="95.1" r="2.9" fill="#3d2c9c"/>
<circle cx="306.8" cy="78.8" r="2.8" fill="#3d2c9c"/>
<circle cx="321.5" cy="36.1" r="2.9" fill="#3d2c9c"/>
<circle cx="332.5" cy="66.1" r="2.5" fill="#281b70"/>
<circle cx="287.8" cy="125.4" r="3.0" fill="#3b2a9a"/>
<circle cx="273.3" cy="57.4" r="3.1" fill="#3a2a98"/>
<circle cx="328.0" cy="113.7" r="3.1" fill="#2e2080"/>
<circle cx="370.0" cy="75.8" r="2.6" fill="#382894"/>
<circle cx="357.1" cy="35.1" r="2.4" fill="#33248a"/>
<circle cx="300.5" cy="74.9" r="2.5" fill="#2c1f7c"/>
<circle cx="304.5" cy="119.9" r="2.5" fill="#281b70"/>
<circle cx="339.1" cy="87.0" r="2.8" fill="#33248a"/>
<circle cx="364.2" cy="128.5" r="2.8" fill="#3d2c9c"/>
<circle cx="299.5" cy="47.2" r="3.2" fill="#3a2a98"/>
<circle cx="355.2" cy="52.2" r="3.1" fill="#2c1f7c"/>
<circle cx="319.2" cy="59.7" r="2.4" fill="#261968"/>
<circle cx="298.4" cy="40.1" r="3.0" fill="#382894"/>
<circle cx="357.3" cy="126.2" r="2.8" fill="#2c1f7c"/>
<circle cx="367.1" cy="92.9" r="2.8" fill="#3b2a9a"/>
<circle cx="291.6" cy="72.1" r="2.7" fill="#35268e"/>
<circle cx="355.2" cy="48.1" r="3.1" fill="#2c1f7c"/>
<circle cx="360.8" cy="127.3" r="2.6" fill="#3d2c9c"/>
<circle cx="281.8" cy="44.9" r="2.9" fill="#261968"/>
<circle cx="291.6" cy="108.4" r="2.7" fill="#2f2182"/>
<circle cx="359.3" cy="69.5" r="2.8" fill="#281b70"/>
<circle cx="338.0" cy="53.8" r="2.4" fill="#261968"/>
<circle cx="262.0" cy="77.3" r="3.0" fill="#35268e"/>
<circle cx="308.9" cy="69.9" r="2.7" fill="#2f2182"/>
<circle cx="366.8" cy="117.9" r="3.0" fill="#382894"/>
<circle cx="319.7" cy="93.9" r="2.4" fill="#261968"/>
<circle cx="363.5" cy="113.5" r="2.4" fill="#382894"/>
<circle cx="326.8" cy="128.0" r="2.6" fill="#2c1f7c"/>
<circle cx="352.4" cy="34.5" r="3.1" fill="#2e2080"/>
<circle cx="278.8" cy="92.3" r="3.1" fill="#3a2a98"/>
<circle cx="369.2" cy="41.4" r="3.0" fill="#35268e"/>
<circle cx="298.8" cy="111.2" r="2.5" fill="#3b2a9a"/>
<circle cx="282.7" cy="34.3" r="2.8" fill="#3d2c9c"/>
<circle cx="340.9" cy="42.5" r="2.8" fill="#382894"/>
<circle cx="351.8" cy="123.5" r="2.6" fill="#2e2080"/>
<circle cx="364.8" cy="67.3" r="3.1" fill="#281b70"/>
<circle cx="264.0" cy="64.1" r="2.8" fill="#2c1f7c"/>
<circle cx="358.8" cy="56.0" r="2.7" fill="#281b70"/>
<circle cx="279.3" cy="76.0" r="3.1" fill="#382894"/>
<circle cx="331.9" cy="42.1" r="2.6" fill="#2e2080"/>
<circle cx="262.2" cy="43.1" r="3.1" fill="#35268e"/>
<circle cx="345.8" cy="75.4" r="2.7" fill="#3d2c9c"/>
<circle cx="353.4" cy="132.6" r="2.7" fill="#382894"/>
<circle cx="276.8" cy="104.1" r="2.5" fill="#281b70"/>
<circle cx="284.1" cy="72.0" r="2.7" fill="#3d2c9c"/>
<circle cx="269.8" cy="54.8" r="3.0" fill="#2a1c74"/>
<circle cx="314.5" cy="92.7" r="2.8" fill="#2e2080"/>
<circle cx="347.5" cy="64.1" r="2.5" fill="#2f2182"/>
<circle cx="262.0" cy="128.9" r="2.7" fill="#382894"/>
<circle cx="322.7" cy="93.1" r="2.9" fill="#261968"/>
<circle cx="288.9" cy="30.3" r="3.0" fill="#33248a"/>
<circle cx="279.4" cy="126.4" r="3.1" fill="#2f2182"/>
<circle cx="344.9" cy="94.7" r="3.1" fill="#3d2c9c"/>
<circle cx="264.4" cy="56.5" r="2.4" fill="#3b2a9a"/>
<circle cx="267.9" cy="31.2" r="2.6" fill="#2c1f7c"/>
<circle cx="367.2" cy="69.3" r="2.4" fill="#2e2080"/>
<circle cx="353.3" cy="83.4" r="2.7" fill="#33248a"/>
<circle cx="286.7" cy="32.4" r="2.6" fill="#281b70"/>
<circle cx="297.4" cy="101.5" r="2.5" fill="#33248a"/>
<circle cx="294.7" cy="108.0" r="2.7" fill="#2a1c74"/>
<circle cx="332.9" cy="50.3" r="2.9" fill="#2e2080"/>
<circle cx="271.4" cy="69.5" r="2.8" fill="#2c1f7c"/>
<circle cx="340.0" cy="104.1" r="2.7" fill="#3d2c9c"/>
<circle cx="277.3" cy="33.0" r="2.5" fill="#3a2a98"/>
<circle cx="339.1" cy="59.1" r="2.4" fill="#281b70"/>
<circle cx="281.8" cy="48.3" r="2.8" fill="#2a1c74"/>
<circle cx="315.2" cy="31.6" r="2.5" fill="#35268e"/>
<circle cx="353.2" cy="92.1" r="2.5" fill="#2e2080"/>
<circle cx="369.7" cy="101.6" r="2.9" fill="#35268e"/>
<circle cx="343.4" cy="103.9" r="2.5" fill="#3b2a9a"/>
<circle cx="279.4" cy="69.6" r="2.6" fill="#281b70"/>
<circle cx="287.3" cy="78.9" r="3.2" fill="#35268e"/>
<circle cx="332.7" cy="63.0" r="2.7" fill="#35268e"/>
<circle cx="324.1" cy="31.1" r="2.9" fill="#2c1f7c"/>
<circle cx="324.0" cy="84.1" r="3.0" fill="#2f2182"/>
<circle cx="271.4" cy="127.5" r="2.8" fill="#3b2a9a"/>
<circle cx="275.7" cy="69.7" r="2.7" fill="#281b70"/>
<circle cx="342.7" cy="115.9" r="3.1" fill="#2e2080"/>
<circle cx="312.5" cy="46.4" r="3.2" fill="#35268e"/>
<circle cx="325.9" cy="93.4" r="2.7" fill="#382894"/>
<circle cx="351.4" cy="55.0" r="3.0" fill="#3a2a98"/>
<circle cx="299.5" cy="31.9" r="3.0" fill="#261968"/>
<circle cx="343.7" cy="127.0" r="2.7" fill="#2a1c74"/>
<circle cx="262.5" cy="83.5" r="3.2" fill="#35268e"/>
<circle cx="330.8" cy="45.1" r="3.1" fill="#35268e"/>
<circle cx="351.7" cy="101.9" r="2.9" fill="#382894"/>
<circle cx="329.9" cy="99.5" r="2.5" fill="#2c1f7c"/>
<circle cx="305.1" cy="34.3" r="2.6" fill="#2e2080"/>
<circle cx="356.7" cy="132.9" r="2.9" fill="#2c1f7c"/>
<circle cx="314.0" cy="71.2" r="2.5" fill="#382894"/>
<circle cx="342.6" cy="46.9" r="2.7" fill="#3a2a98"/>
<circle cx="314.6" cy="132.0" r="2.5" fill="#382894"/>
<circle cx="263.7" cy="95.7" r="2.7" fill="#3d2c9c"/>
<circle cx="369.6" cy="61.1" r="2.9" fill="#3d2c9c"/>
<circle cx="366.3" cy="61.9" r="2.5" fill="#2f2182"/>
<circle cx="288.1" cy="66.5" r="3.0" fill="#2f2182"/>
<circle cx="337.8" cy="78.1" r="2.7" fill="#261968"/>
<circle cx="323.7" cy="118.3" r="2.7" fill="#3a2a98"/>
<circle cx="292.5" cy="63.0" r="3.1" fill="#3b2a9a"/>
<circle cx="274.4" cy="84.7" r="2.8" fill="#2f2182"/>
<circle cx="267.4" cy="60.9" r="2.4" fill="#3a2a98"/>
<circle cx="320.7" cy="46.7" r="3.0" fill="#2e2080"/>
<circle cx="264.0" cy="109.0" r="2.9" fill="#2f2182"/>
<circle cx="294.0" cy="111.0" r="3.1" fill="#3a2a98"/>
<circle cx="297.1" cy="64.8" r="2.5" fill="#3b2a9a"/>
<circle cx="347.1" cy="114.6" r="2.6" fill="#2e2080"/>
<circle cx="298.6" cy="58.0" r="2.6" fill="#3a2a98"/>
<circle cx="366.7" cy="35.0" r="2.8" fill="#3a2a98"/>
<circle cx="268.3" cy="110.2" r="2.9" fill="#3a2a98"/>
<circle cx="313.1" cy="89.1" r="2.6" fill="#382894"/>
<circle cx="303.9" cy="75.3" r="2.8" fill="#3d2c9c"/>
<circle cx="295.5" cy="99.0" r="3.0" fill="#35268e"/>
<circle cx="303.9" cy="67.4" r="2.4" fill="#281b70"/>
<circle cx="263.0" cy="98.9" r="2.6" fill="#3d2c9c"/>
<circle cx="350.4" cy="72.1" r="2.5" fill="#2f2182"/>
<circle cx="268.5" cy="67.9" r="2.8" fill="#35268e"/>
<circle cx="362.3" cy="68.9" r="3.1" fill="#2e2080"/>
<circle cx="317.9" cy="106.1" r="3.0" fill="#2e2080"/>
<circle cx="271.4" cy="110.0" r="2.9" fill="#261968"/>
<circle cx="319.3" cy="114.0" r="2.7" fill="#33248a"/>
<circle cx="279.1" cy="35.7" r="2.7" fill="#382894"/>
<circle cx="310.9" cy="60.9" r="2.6" fill="#33248a"/>
<circle cx="369.3" cy="114.7" r="3.1" fill="#2c1f7c"/>
<circle cx="358.9" cy="102.2" r="3.0" fill="#261968"/>
<circle cx="352.9" cy="62.5" r="2.6" fill="#3a2a98"/>
<circle cx="311.2" cy="117.4" r="2.6" fill="#2c1f7c"/>
<circle cx="370.0" cy="33.9" r="3.1" fill="#382894"/>
<circle cx="326.6" cy="70.9" r="3.0" fill="#3d2c9c"/>
<circle cx="331.0" cy="131.4" r="3.0" fill="#2f2182"/>
<circle cx="298.6" cy="54.8" r="3.0" fill="#2f2182"/>
<circle cx="367.9" cy="97.7" r="2.5" fill="#2f2182"/>
<circle cx="369.8" cy="37.5" r="2.9" fill="#2f2182"/>
<circle cx="316.7" cy="67.8" r="2.6" fill="#382894"/>
<circle cx="368.1" cy="65.3" r="2.7" fill="#33248a"/>
<circle cx="328.6" cy="96.2" r="2.9" fill="#3d2c9c"/>
<circle cx="355.5" cy="76.3" r="3.0" fill="#2c1f7c"/>
<circle cx="308.8" cy="127.9" r="2.5" fill="#2c1f7c"/>
<circle cx="280.6" cy="104.7" r="2.7" fill="#33248a"/>
</g>
<g filter="url(#b1)">
<ellipse cx="290.6" cy="79.2" rx="6.3" ry="3.8" fill="#c02070" opacity="0.55" transform="rotate(-15 290.6 79.2)"/>
<ellipse cx="290.6" cy="78.8" rx="5.1" ry="2.5" fill="#ff3030" opacity="1" transform="rotate(-15 290.6 78.8)"/>
<ellipse cx="291.6" cy="77.9" rx="2.1" ry="1.1" fill="#ff7a40" opacity="0.9" transform="rotate(-15 291.6 77.9)"/>
<ellipse cx="283.6" cy="94.9" rx="5.9" ry="3.8" fill="#c02070" opacity="0.55" transform="rotate(-30 283.6 94.9)"/>
<ellipse cx="283.6" cy="94.9" rx="4.7" ry="2.8" fill="#ff2f2f" opacity="1" transform="rotate(-30 283.6 94.9)"/>
<ellipse cx="283.2" cy="95.3" rx="1.9" ry="1.3" fill="#ff8040" opacity="0.9" transform="rotate(-30 283.2 95.3)"/>
<ellipse cx="278.9" cy="88.3" rx="5.1" ry="1.7" fill="#f03a9a" opacity="0.95" transform="rotate(15 278.9 88.3)"/>
<ellipse cx="285.7" cy="89.8" rx="2.5" ry="1.3" fill="#ff6aa8" opacity="0.9" transform="rotate(0 285.7 89.8)"/>
<ellipse cx="300.1" cy="84.3" rx="3.4" ry="1.5" fill="#f04a9a" opacity="0.95" transform="rotate(-20 300.1 84.3)"/>
<ellipse cx="293.7" cy="86.2" rx="2.1" ry="2.1" fill="#7a30b0" opacity="0.7" transform="rotate(0 293.7 86.2)"/>
<ellipse cx="356.1" cy="76.2" rx="3.8" ry="4.0" fill="#a02080" opacity="0.5" transform="rotate(0 356.1 76.2)"/>
<ellipse cx="356.1" cy="76.2" rx="2.8" ry="3.0" fill="#ff2a3a" opacity="1" transform="rotate(0 356.1 76.2)"/>
<ellipse cx="355.1" cy="68.2" rx="2.1" ry="1.3" fill="#a030a0" opacity="0.6" transform="rotate(0 355.1 68.2)"/>
<ellipse cx="318.1" cy="75.0" rx="0.8" ry="2.5" fill="#d040a0" opacity="0.8" transform="rotate(10 318.1 75.0)"/>
<ellipse cx="266.2" cy="119.4" rx="1.1" ry="2.1" fill="#c02060" opacity="0.8" transform="rotate(0 266.2 119.4)"/>
<ellipse cx="355.1" cy="61.8" rx="1.7" ry="1.1" fill="#8030a0" opacity="0.5" transform="rotate(0 355.1 61.8)"/>
</g></g>
<text x="260.20" y="143.00" font-size="8.4" text-anchor="middle" font-weight="normal" fill="#231f20" color="#231f20" textLength="195.6" lengthAdjust="spacingAndGlyphs">Syngeneic mouse tumor bearing FC-muMCL1 cell line</text>
<line x1="408.80" y1="43.70" x2="408.80" y2="130.50" stroke="#231f20" stroke-width="1.25"/>
<line x1="405.80" y1="46.10" x2="408.80" y2="46.10" stroke="#231f20" stroke-width="1.2"/>
<text x="403.20" y="49.20" font-size="8.5" text-anchor="end" font-weight="normal" fill="#231f20" color="#231f20">12</text>
<line x1="405.80" y1="74.10" x2="408.80" y2="74.10" stroke="#231f20" stroke-width="1.2"/>
<text x="403.20" y="77.20" font-size="8.5" text-anchor="end" font-weight="normal" fill="#231f20" color="#231f20">8</text>
<line x1="405.80" y1="102.10" x2="408.80" y2="102.10" stroke="#231f20" stroke-width="1.2"/>
<text x="403.20" y="105.20" font-size="8.5" text-anchor="end" font-weight="normal" fill="#231f20" color="#231f20">4</text>
<line x1="405.80" y1="129.90" x2="408.80" y2="129.90" stroke="#231f20" stroke-width="1.2"/>
<text x="403.20" y="133.00" font-size="8.5" text-anchor="end" font-weight="normal" fill="#231f20" color="#231f20">0</text>
<line x1="408.20" y1="129.90" x2="497.00" y2="129.90" stroke="#231f20" stroke-width="1.25"/>
<line x1="431.20" y1="129.90" x2="431.20" y2="132.90" stroke="#231f20" stroke-width="1.2"/>
<line x1="475.60" y1="129.90" x2="475.60" y2="132.90" stroke="#231f20" stroke-width="1.2"/>
<line x1="431.40" y1="51.00" x2="431.40" y2="64.00" stroke="#333" stroke-width="1.2"/>
<line x1="428.65" y1="51.00" x2="434.15" y2="51.00" stroke="#333" stroke-width="1.3"/>
<rect x="416.55" y="63.00" width="29.70" height="66.90" fill="#c8102e"/>
<line x1="475.60" y1="121.70" x2="475.60" y2="126.30" stroke="#333" stroke-width="1.2"/>
<line x1="472.85" y1="121.70" x2="478.35" y2="121.70" stroke="#333" stroke-width="1.3"/>
<rect x="460.75" y="125.30" width="29.70" height="4.60" fill="#1b4f8a"/>
<text x="387.00" y="87.00" font-size="11.5" text-anchor="middle" class="yl" fill="#231f20" color="#231f20" transform="rotate(-90 387.00 87.00)" textLength="42" lengthAdjust="spacingAndGlyphs">Positivity (%)</text>
<text x="431.20" y="144.00" font-size="8.5" text-anchor="middle" font-weight="normal" fill="#231f20" color="#231f20">Ly6C</text>
<text x="475.60" y="144.00" font-size="8.5" text-anchor="middle" font-weight="normal" fill="#231f20" color="#231f20">Ly6G</text>
<text x="0.40" y="214.00" font-size="11.5" text-anchor="start" font-weight="bold" fill="#000" color="#000">C</text>
<line x1="53.30" y1="222.50" x2="53.30" y2="331.10" stroke="#231f20" stroke-width="1.25"/>
<line x1="50.30" y1="330.50" x2="53.30" y2="330.50" stroke="#231f20" stroke-width="1.2"/>
<text x="47.70" y="333.60" font-size="8.5" text-anchor="end" font-weight="normal" fill="#231f20" color="#231f20">0</text>
<line x1="50.30" y1="313.96" x2="53.30" y2="313.96" stroke="#231f20" stroke-width="1.2"/>
<text x="47.70" y="317.06" font-size="8.5" text-anchor="end" font-weight="normal" fill="#231f20" color="#231f20">1000</text>
<line x1="50.30" y1="297.42" x2="53.30" y2="297.42" stroke="#231f20" stroke-width="1.2"/>
<text x="47.70" y="300.52" font-size="8.5" text-anchor="end" font-weight="normal" fill="#231f20" color="#231f20">2000</text>
<line x1="50.30" y1="280.88" x2="53.30" y2="280.88" stroke="#231f20" stroke-width="1.2"/>
<text x="47.70" y="283.98" font-size="8.5" text-anchor="end" font-weight="normal" fill="#231f20" color="#231f20">3000</text>
<line x1="50.30" y1="264.34" x2="53.30" y2="264.34" stroke="#231f20" stroke-width="1.2"/>
<text x="47.70" y="267.44" font-size="8.5" text-anchor="end" font-weight="normal" fill="#231f20" color="#231f20">4000</text>
<line x1="50.30" y1="247.80" x2="53.30" y2="247.80" stroke="#231f20" stroke-width="1.2"/>
<text x="47.70" y="250.90" font-size="8.5" text-anchor="end" font-weight="normal" fill="#231f20" color="#231f20">5000</text>
<line x1="50.30" y1="231.26" x2="53.30" y2="231.26" stroke="#231f20" stroke-width="1.2"/>
<text x="47.70" y="234.36" font-size="8.5" text-anchor="end" font-weight="normal" fill="#231f20" color="#231f20">6000</text>
<line x1="52.70" y1="330.50" x2="230.60" y2="330.50" stroke="#231f20" stroke-width="1.25"/>
<line x1="63.90" y1="330.50" x2="63.90" y2="333.50" stroke="#231f20" stroke-width="1.2"/>
<line x1="76.50" y1="330.50" x2="76.50" y2="333.50" stroke="#231f20" stroke-width="1.2"/>
<line x1="89.10" y1="330.50" x2="89.10" y2="333.50" stroke="#231f20" stroke-width="1.2"/>
<line x1="101.70" y1="330.50" x2="101.70" y2="333.50" stroke="#231f20" stroke-width="1.2"/>
<line x1="122.60" y1="330.50" x2="122.60" y2="333.50" stroke="#231f20" stroke-width="1.2"/>
<line x1="135.30" y1="330.50" x2="135.30" y2="333.50" stroke="#231f20" stroke-width="1.2"/>
<line x1="147.80" y1="330.50" x2="147.80" y2="333.50" stroke="#231f20" stroke-width="1.2"/>
<line x1="160.30" y1="330.50" x2="160.30" y2="333.50" stroke="#231f20" stroke-width="1.2"/>
<line x1="181.50" y1="330.50" x2="181.50" y2="333.50" stroke="#231f20" stroke-width="1.2"/>
<line x1="193.90" y1="330.50" x2="193.90" y2="333.50" stroke="#231f20" stroke-width="1.2"/>
<line x1="206.40" y1="330.50" x2="206.40" y2="333.50" stroke="#231f20" stroke-width="1.2"/>
<line x1="219.00" y1="330.50" x2="219.00" y2="333.50" stroke="#231f20" stroke-width="1.2"/>
<line x1="63.90" y1="283.00" x2="63.90" y2="308.50" stroke="#333" stroke-width="1.2"/>
<line x1="61.40" y1="283.00" x2="66.40" y2="283.00" stroke="#333" stroke-width="1.3"/>
<rect x="59.70" y="307.50" width="8.40" height="23.00" fill="#c9c8cc"/>
<line x1="89.10" y1="326.50" x2="89.10" y2="330.80" stroke="#333" stroke-width="1.2"/>
<line x1="86.60" y1="326.50" x2="91.60" y2="326.50" stroke="#333" stroke-width="1.3"/>
<rect x="84.90" y="329.80" width="8.40" height="0.70" fill="#c9c8cc"/>
<line x1="122.60" y1="312.50" x2="122.60" y2="321.60" stroke="#333" stroke-width="1.2"/>
<line x1="120.10" y1="312.50" x2="125.10" y2="312.50" stroke="#333" stroke-width="1.3"/>
<rect x="118.40" y="320.60" width="8.40" height="9.90" fill="#c8102e"/>
<line x1="135.30" y1="305.50" x2="135.30" y2="310.00" stroke="#333" stroke-width="1.2"/>
<line x1="132.80" y1="305.50" x2="137.80" y2="305.50" stroke="#333" stroke-width="1.3"/>
<rect x="131.10" y="309.00" width="8.40" height="21.50" fill="#c8102e"/>
<line x1="147.80" y1="227.70" x2="147.80" y2="275.90" stroke="#333" stroke-width="1.2"/>
<line x1="145.30" y1="227.70" x2="150.30" y2="227.70" stroke="#333" stroke-width="1.3"/>
<rect x="143.60" y="274.90" width="8.40" height="55.60" fill="#c8102e"/>
<line x1="160.30" y1="274.00" x2="160.30" y2="301.20" stroke="#333" stroke-width="1.2"/>
<line x1="157.80" y1="274.00" x2="162.80" y2="274.00" stroke="#333" stroke-width="1.3"/>
<rect x="156.10" y="300.20" width="8.40" height="30.30" fill="#c8102e"/>
<line x1="181.50" y1="315.80" x2="181.50" y2="323.50" stroke="#333" stroke-width="1.2"/>
<line x1="179.00" y1="315.80" x2="184.00" y2="315.80" stroke="#333" stroke-width="1.3"/>
<rect x="177.30" y="322.50" width="8.40" height="8.00" fill="#1b4f8a"/>
<line x1="193.90" y1="313.60" x2="193.90" y2="320.80" stroke="#333" stroke-width="1.2"/>
<line x1="191.40" y1="313.60" x2="196.40" y2="313.60" stroke="#333" stroke-width="1.3"/>
<rect x="189.70" y="319.80" width="8.40" height="10.70" fill="#1b4f8a"/>
<line x1="206.40" y1="309.00" x2="206.40" y2="320.00" stroke="#333" stroke-width="1.2"/>
<line x1="203.90" y1="309.00" x2="208.90" y2="309.00" stroke="#333" stroke-width="1.3"/>
<rect x="202.20" y="319.00" width="8.40" height="11.50" fill="#1b4f8a"/>
<line x1="219.00" y1="321.20" x2="219.00" y2="326.70" stroke="#333" stroke-width="1.2"/>
<line x1="216.50" y1="321.20" x2="221.50" y2="321.20" stroke="#333" stroke-width="1.3"/>
<rect x="214.80" y="325.70" width="8.40" height="4.80" fill="#1b4f8a"/>
<text x="21.50" y="276.50" font-size="11.5" text-anchor="middle" class="yl" fill="#231f20" color="#231f20" transform="rotate(-90 21.50 276.50)" textLength="49" lengthAdjust="spacingAndGlyphs">Expression level</text>
<text transform="translate(66.40 339.50) rotate(-45) scale(0.98 1)" font-size="8.5" text-anchor="end" fill="#231f20" color="#231f20">CD19</text>
<text transform="translate(79.00 339.50) rotate(-45) scale(0.98 1)" font-size="8.5" text-anchor="end" fill="#231f20" color="#231f20">Mino</text>
<text transform="translate(91.60 339.50) rotate(-45) scale(0.98 1)" font-size="8.5" text-anchor="end" fill="#231f20" color="#231f20">JVM2</text>
<text transform="translate(104.20 339.50) rotate(-45) scale(0.98 1)" font-size="8.5" text-anchor="end" fill="#231f20" color="#231f20">Granta</text>
<text transform="translate(125.10 339.50) rotate(-45) scale(0.98 1)" font-size="8.5" text-anchor="end" fill="#231f20" color="#231f20">CD19</text>
<text transform="translate(137.80 339.50) rotate(-45) scale(0.98 1)" font-size="8.5" text-anchor="end" fill="#231f20" color="#231f20">Mino</text>
<text transform="translate(150.30 339.50) rotate(-45) scale(0.98 1)" font-size="8.5" text-anchor="end" fill="#231f20" color="#231f20">JVM2</text>
<text transform="translate(162.80 339.50) rotate(-45) scale(0.98 1)" font-size="8.5" text-anchor="end" fill="#231f20" color="#231f20">Granta</text>
<text transform="translate(184.00 339.50) rotate(-45) scale(0.98 1)" font-size="8.5" text-anchor="end" fill="#231f20" color="#231f20">CD19</text>
<text transform="translate(196.40 339.50) rotate(-45) scale(0.98 1)" font-size="8.5" text-anchor="end" fill="#231f20" color="#231f20">Mino</text>
<text transform="translate(208.90 339.50) rotate(-45) scale(0.98 1)" font-size="8.5" text-anchor="end" fill="#231f20" color="#231f20">JVM2</text>
<text transform="translate(221.50 339.50) rotate(-45) scale(0.98 1)" font-size="8.5" text-anchor="end" fill="#231f20" color="#231f20">Granta</text>
<rect x="199.60" y="224.30" width="6.80" height="6.80" fill="#c9c8cc"/>
<text x="209.50" y="230.90" font-size="8.5" text-anchor="start" font-weight="normal" fill="#231f20" color="#231f20">CCL2</text>
<rect x="199.60" y="237.00" width="6.80" height="6.80" fill="#c8102e"/>
<text x="209.50" y="243.60" font-size="8.5" text-anchor="start" font-weight="normal" fill="#231f20" color="#231f20">CCL3</text>
<rect x="199.60" y="249.20" width="6.80" height="6.80" fill="#1b4f8a"/>
<text x="209.50" y="255.80" font-size="8.5" text-anchor="start" font-weight="normal" fill="#231f20" color="#231f20">CCL4</text>
<text x="246.20" y="214.00" font-size="11.5" text-anchor="start" font-weight="bold" fill="#000" color="#000">D</text>
<line x1="300.20" y1="222.90" x2="300.20" y2="269.40" stroke="#231f20" stroke-width="1.25"/>
<line x1="300.20" y1="277.60" x2="300.20" y2="331.40" stroke="#231f20" stroke-width="1.25"/>
<line x1="296.40" y1="226.10" x2="300.20" y2="226.10" stroke="#231f20" stroke-width="1.2"/>
<text x="292.90" y="229.20" font-size="8.5" text-anchor="end" font-weight="normal" fill="#231f20" color="#231f20">1000</text>
<line x1="296.40" y1="240.40" x2="300.20" y2="240.40" stroke="#231f20" stroke-width="1.2"/>
<text x="292.90" y="243.50" font-size="8.5" text-anchor="end" font-weight="normal" fill="#231f20" color="#231f20">800</text>
<line x1="296.40" y1="254.70" x2="300.20" y2="254.70" stroke="#231f20" stroke-width="1.2"/>
<text x="292.90" y="257.80" font-size="8.5" text-anchor="end" font-weight="normal" fill="#231f20" color="#231f20">600</text>
<line x1="296.40" y1="269.00" x2="300.20" y2="269.00" stroke="#231f20" stroke-width="1.2"/>
<text x="292.90" y="272.10" font-size="8.5" text-anchor="end" font-weight="normal" fill="#231f20" color="#231f20">400</text>
<line x1="298.00" y1="229.67" x2="300.20" y2="229.67" stroke="#231f20" stroke-width="1.1"/>
<line x1="298.00" y1="233.25" x2="300.20" y2="233.25" stroke="#231f20" stroke-width="1.1"/>
<line x1="298.00" y1="236.82" x2="300.20" y2="236.82" stroke="#231f20" stroke-width="1.1"/>
<line x1="298.00" y1="243.97" x2="300.20" y2="243.97" stroke="#231f20" stroke-width="1.1"/>
<line x1="298.00" y1="247.55" x2="300.20" y2="247.55" stroke="#231f20" stroke-width="1.1"/>
<line x1="298.00" y1="251.12" x2="300.20" y2="251.12" stroke="#231f20" stroke-width="1.1"/>
<line x1="298.00" y1="258.27" x2="300.20" y2="258.27" stroke="#231f20" stroke-width="1.1"/>
<line x1="298.00" y1="261.85" x2="300.20" y2="261.85" stroke="#231f20" stroke-width="1.1"/>
<line x1="298.00" y1="265.43" x2="300.20" y2="265.43" stroke="#231f20" stroke-width="1.1"/>
<line x1="296.40" y1="278.10" x2="300.20" y2="278.10" stroke="#231f20" stroke-width="1.2"/>
<line x1="296.40" y1="288.60" x2="300.20" y2="288.60" stroke="#231f20" stroke-width="1.2"/>
<text x="292.90" y="291.70" font-size="8.5" text-anchor="end" font-weight="normal" fill="#231f20" color="#231f20">200</text>
<line x1="296.40" y1="309.50" x2="300.20" y2="309.50" stroke="#231f20" stroke-width="1.2"/>
<text x="292.90" y="312.60" font-size="8.5" text-anchor="end" font-weight="normal" fill="#231f20" color="#231f20">100</text>
<line x1="296.40" y1="330.80" x2="300.20" y2="330.80" stroke="#231f20" stroke-width="1.2"/>
<text x="292.90" y="333.90" font-size="8.5" text-anchor="end" font-weight="normal" fill="#231f20" color="#231f20">0</text>
<line x1="298.00" y1="280.28" x2="300.20" y2="280.28" stroke="#231f20" stroke-width="1.1"/>
<line x1="298.00" y1="284.49" x2="300.20" y2="284.49" stroke="#231f20" stroke-width="1.1"/>
<line x1="298.00" y1="292.91" x2="300.20" y2="292.91" stroke="#231f20" stroke-width="1.1"/>
<line x1="298.00" y1="297.12" x2="300.20" y2="297.12" stroke="#231f20" stroke-width="1.1"/>
<line x1="298.00" y1="301.33" x2="300.20" y2="301.33" stroke="#231f20" stroke-width="1.1"/>
<line x1="298.00" y1="305.54" x2="300.20" y2="305.54" stroke="#231f20" stroke-width="1.1"/>
<line x1="298.00" y1="313.96" x2="300.20" y2="313.96" stroke="#231f20" stroke-width="1.1"/>
<line x1="298.00" y1="318.17" x2="300.20" y2="318.17" stroke="#231f20" stroke-width="1.1"/>
<line x1="298.00" y1="322.38" x2="300.20" y2="322.38" stroke="#231f20" stroke-width="1.1"/>
<line x1="298.00" y1="326.59" x2="300.20" y2="326.59" stroke="#231f20" stroke-width="1.1"/>
<line x1="299.60" y1="330.80" x2="393.70" y2="330.80" stroke="#231f20" stroke-width="1.25"/>
<line x1="314.60" y1="330.80" x2="314.60" y2="333.80" stroke="#231f20" stroke-width="1.2"/>
<line x1="336.70" y1="330.80" x2="336.70" y2="333.80" stroke="#231f20" stroke-width="1.2"/>
<line x1="358.70" y1="330.80" x2="358.70" y2="333.80" stroke="#231f20" stroke-width="1.2"/>
<line x1="380.60" y1="330.80" x2="380.60" y2="333.80" stroke="#231f20" stroke-width="1.2"/>
<line x1="314.60" y1="322.00" x2="314.60" y2="324.90" stroke="#333" stroke-width="1.2"/>
<line x1="310.35" y1="322.00" x2="318.85" y2="322.00" stroke="#333" stroke-width="1.3"/>
<rect x="307.45" y="323.90" width="14.30" height="6.90" fill="#c9c8cc"/>
<line x1="336.70" y1="227.80" x2="336.70" y2="232.70" stroke="#333" stroke-width="1.2"/>
<line x1="332.80" y1="227.80" x2="340.60" y2="227.80" stroke="#333" stroke-width="1.3"/>
<rect x="329.55" y="231.70" width="14.30" height="99.10" fill="#8d7cc3"/>
<line x1="358.70" y1="260.00" x2="358.70" y2="267.40" stroke="#333" stroke-width="1.2"/>
<line x1="354.80" y1="260.00" x2="362.60" y2="260.00" stroke="#333" stroke-width="1.3"/>
<rect x="351.55" y="266.40" width="14.30" height="64.40" fill="#259fdc"/>
<line x1="380.60" y1="280.40" x2="380.60" y2="287.10" stroke="#333" stroke-width="1.2"/>
<line x1="376.70" y1="280.40" x2="384.50" y2="280.40" stroke="#333" stroke-width="1.3"/>
<rect x="373.45" y="286.10" width="14.30" height="44.70" fill="#2e9f3e"/>
<rect x="301.20" y="269.00" width="93.80" height="8.80" fill="#fff"/>
<text x="336.70" y="226.50" font-size="7.5" text-anchor="middle" font-weight="bold" fill="#231f20" color="#231f20">***</text>
<text x="358.70" y="259.00" font-size="7.5" text-anchor="middle" font-weight="bold" fill="#231f20" color="#231f20">***</text>
<text x="380.60" y="279.20" font-size="7.5" text-anchor="middle" font-weight="bold" fill="#231f20" color="#231f20">***</text>
<text x="267.90" y="277.40" font-size="11.5" text-anchor="middle" class="yl" fill="#231f20" color="#231f20" transform="rotate(-90 267.90 277.40)" textLength="74" lengthAdjust="spacingAndGlyphs">CCL3 secretion (ng/ml)</text>
<text transform="translate(317.10 339.50) rotate(-45) scale(0.98 1)" font-size="8.5" text-anchor="end" fill="#231f20" color="#231f20">CD19</text>
<text transform="translate(339.20 339.50) rotate(-45) scale(0.98 1)" font-size="8.5" text-anchor="end" fill="#231f20" color="#231f20">JVM2</text>
<text transform="translate(361.20 339.50) rotate(-45) scale(0.98 1)" font-size="8.5" text-anchor="end" fill="#231f20" color="#231f20">Mino</text>
<text transform="translate(383.10 339.50) rotate(-45) scale(0.98 1)" font-size="8.5" text-anchor="end" fill="#231f20" color="#231f20">Granta</text>
<text x="412.20" y="214.00" font-size="11.5" text-anchor="start" font-weight="bold" fill="#000" color="#000">E</text>
<line x1="464.70" y1="250.80" x2="464.70" y2="331.30" stroke="#231f20" stroke-width="1.25"/>
<line x1="461.70" y1="253.80" x2="464.70" y2="253.80" stroke="#231f20" stroke-width="1.2"/>
<text x="459.10" y="256.90" font-size="8.5" text-anchor="end" font-weight="normal" fill="#231f20" color="#231f20">1500</text>
<line x1="461.70" y1="279.40" x2="464.70" y2="279.40" stroke="#231f20" stroke-width="1.2"/>
<text x="459.10" y="282.50" font-size="8.5" text-anchor="end" font-weight="normal" fill="#231f20" color="#231f20">1000</text>
<line x1="461.70" y1="305.00" x2="464.70" y2="305.00" stroke="#231f20" stroke-width="1.2"/>
<text x="459.10" y="308.10" font-size="8.5" text-anchor="end" font-weight="normal" fill="#231f20" color="#231f20">500</text>
<line x1="461.70" y1="330.70" x2="464.70" y2="330.70" stroke="#231f20" stroke-width="1.2"/>
<text x="459.10" y="333.80" font-size="8.5" text-anchor="end" font-weight="normal" fill="#231f20" color="#231f20">0</text>
<line x1="464.10" y1="330.70" x2="520.00" y2="330.70" stroke="#231f20" stroke-width="1.25"/>
<line x1="478.30" y1="330.70" x2="478.30" y2="333.70" stroke="#231f20" stroke-width="1.2"/>
<line x1="506.00" y1="330.70" x2="506.00" y2="333.70" stroke="#231f20" stroke-width="1.2"/>
<line x1="478.30" y1="302.00" x2="478.30" y2="309.80" stroke="#333" stroke-width="1.2"/>
<line x1="475.80" y1="302.00" x2="480.80" y2="302.00" stroke="#333" stroke-width="1.3"/>
<rect x="467.40" y="308.80" width="21.80" height="21.90" fill="#a7be82"/>
<line x1="506.00" y1="278.00" x2="506.00" y2="291.00" stroke="#333" stroke-width="1.2"/>
<line x1="503.50" y1="278.00" x2="508.50" y2="278.00" stroke="#333" stroke-width="1.3"/>
<rect x="495.10" y="290.00" width="21.80" height="40.70" fill="#fdb913"/>
<text x="506.00" y="277.00" font-size="8" text-anchor="middle" font-weight="bold" fill="#231f20" color="#231f20">*</text>
<text x="432.20" y="290.70" font-size="11.5" text-anchor="middle" class="yl" fill="#231f20" color="#231f20" transform="rotate(-90 432.20 290.70)" textLength="74" lengthAdjust="spacingAndGlyphs">CCL3 secretion (ng/ml)</text>
<text transform="translate(480.80 340.50) rotate(-45) scale(0.94 1)" font-size="8.5" text-anchor="end" fill="#231f20" color="#231f20">Normal plasma</text>
<text transform="translate(508.50 340.50) rotate(-45) scale(0.96 1)" font-size="8.5" text-anchor="end" fill="#231f20" color="#231f20">MCL patient plasma</text>
<text x="0.90" y="415.00" font-size="11.5" text-anchor="start" font-weight="bold" fill="#000" color="#000">F</text>
<line x1="53.40" y1="423.70" x2="53.40" y2="497.00" stroke="#231f20" stroke-width="1.25"/>
<line x1="50.40" y1="426.20" x2="53.40" y2="426.20" stroke="#231f20" stroke-width="1.2"/>
<text x="47.80" y="429.30" font-size="8.5" text-anchor="end" font-weight="normal" fill="#231f20" color="#231f20">8</text>
<line x1="50.40" y1="443.50" x2="53.40" y2="443.50" stroke="#231f20" stroke-width="1.2"/>
<text x="47.80" y="446.60" font-size="8.5" text-anchor="end" font-weight="normal" fill="#231f20" color="#231f20">6</text>
<line x1="50.40" y1="461.10" x2="53.40" y2="461.10" stroke="#231f20" stroke-width="1.2"/>
<text x="47.80" y="464.20" font-size="8.5" text-anchor="end" font-weight="normal" fill="#231f20" color="#231f20">4</text>
<line x1="50.40" y1="478.80" x2="53.40" y2="478.80" stroke="#231f20" stroke-width="1.2"/>
<text x="47.80" y="481.90" font-size="8.5" text-anchor="end" font-weight="normal" fill="#231f20" color="#231f20">2</text>
<line x1="50.40" y1="496.40" x2="53.40" y2="496.40" stroke="#231f20" stroke-width="1.2"/>
<text x="47.80" y="499.50" font-size="8.5" text-anchor="end" font-weight="normal" fill="#231f20" color="#231f20">0</text>
<line x1="52.80" y1="496.40" x2="165.35" y2="496.40" stroke="#231f20" stroke-width="1.25"/>
<line x1="61.30" y1="496.40" x2="61.30" y2="499.40" stroke="#231f20" stroke-width="1.2"/>
<line x1="75.15" y1="496.40" x2="75.15" y2="499.40" stroke="#231f20" stroke-width="1.2"/>
<line x1="89.00" y1="496.40" x2="89.00" y2="499.40" stroke="#231f20" stroke-width="1.2"/>
<line x1="102.85" y1="496.40" x2="102.85" y2="499.40" stroke="#231f20" stroke-width="1.2"/>
<line x1="116.70" y1="496.40" x2="116.70" y2="499.40" stroke="#231f20" stroke-width="1.2"/>
<line x1="130.55" y1="496.40" x2="130.55" y2="499.40" stroke="#231f20" stroke-width="1.2"/>
<line x1="144.40" y1="496.40" x2="144.40" y2="499.40" stroke="#231f20" stroke-width="1.2"/>
<line x1="158.25" y1="496.40" x2="158.25" y2="499.40" stroke="#231f20" stroke-width="1.2"/>
<line x1="61.30" y1="485.30" x2="61.30" y2="488.80" stroke="#333" stroke-width="1.2"/>
<line x1="58.30" y1="485.30" x2="64.30" y2="485.30" stroke="#333" stroke-width="1.3"/>
<rect x="56.70" y="487.80" width="9.20" height="8.60" fill="#754719"/>
<line x1="75.15" y1="443.50" x2="75.15" y2="451.40" stroke="#333" stroke-width="1.2"/>
<line x1="72.15" y1="443.50" x2="78.15" y2="443.50" stroke="#333" stroke-width="1.3"/>
<rect x="70.55" y="450.40" width="9.20" height="46.00" fill="#c8791f"/>
<line x1="89.00" y1="443.50" x2="89.00" y2="452.40" stroke="#333" stroke-width="1.2"/>
<line x1="86.00" y1="443.50" x2="92.00" y2="443.50" stroke="#333" stroke-width="1.3"/>
<rect x="84.40" y="451.40" width="9.20" height="45.00" fill="#ec168c"/>
<line x1="102.85" y1="448.70" x2="102.85" y2="458.30" stroke="#333" stroke-width="1.2"/>
<line x1="99.85" y1="448.70" x2="105.85" y2="448.70" stroke="#333" stroke-width="1.3"/>
<rect x="98.25" y="457.30" width="9.20" height="39.10" fill="#c9c8cc"/>
<line x1="116.70" y1="482.60" x2="116.70" y2="486.00" stroke="#333" stroke-width="1.2"/>
<line x1="113.70" y1="482.60" x2="119.70" y2="482.60" stroke="#333" stroke-width="1.3"/>
<rect x="112.10" y="485.00" width="9.20" height="11.40" fill="#c8102e"/>
<line x1="130.55" y1="454.50" x2="130.55" y2="462.50" stroke="#333" stroke-width="1.2"/>
<line x1="127.55" y1="454.50" x2="133.55" y2="454.50" stroke="#333" stroke-width="1.3"/>
<rect x="125.95" y="461.50" width="9.20" height="34.90" fill="#1b4f8a"/>
<line x1="144.40" y1="458.30" x2="144.40" y2="464.90" stroke="#333" stroke-width="1.2"/>
<line x1="141.40" y1="458.30" x2="147.40" y2="458.30" stroke="#333" stroke-width="1.3"/>
<rect x="139.80" y="463.90" width="9.20" height="32.50" fill="#3aaa46"/>
<line x1="158.25" y1="485.70" x2="158.25" y2="488.40" stroke="#333" stroke-width="1.2"/>
<line x1="155.25" y1="485.70" x2="161.25" y2="485.70" stroke="#333" stroke-width="1.3"/>
<rect x="153.65" y="487.40" width="9.20" height="9.00" fill="#6b2a7c"/>
<line x1="71.70" y1="437.20" x2="121.80" y2="437.20" stroke="#333" stroke-width="1.2"/>
<text x="96.75" y="435.50" font-size="7.5" text-anchor="middle" font-weight="bold" fill="#231f20" color="#231f20">**</text>
<text x="36.80" y="459.40" font-size="11.5" text-anchor="middle" class="yl" fill="#231f20" color="#231f20" transform="rotate(-90 36.80 459.40)" textLength="75" lengthAdjust="spacingAndGlyphs">Relative THP1 migration</text>
<text transform="translate(63.80 505.00) rotate(-45) scale(0.98 1)" font-size="8.5" text-anchor="end" fill="#231f20" color="#231f20">Medium</text>
<text transform="translate(77.65 505.00) rotate(-45) scale(0.98 1)" font-size="8.5" text-anchor="end" fill="#231f20" color="#231f20">Isotype 1</text>
<text transform="translate(91.50 505.00) rotate(-45) scale(0.98 1)" font-size="8.5" text-anchor="end" fill="#231f20" color="#231f20">Isotype 2</text>
<text transform="translate(105.35 505.00) rotate(-45) scale(0.98 1)" font-size="8.5" text-anchor="end" fill="#231f20" color="#231f20">CCL2 Ab</text>
<text transform="translate(119.20 505.00) rotate(-45) scale(0.98 1)" font-size="8.5" text-anchor="end" fill="#231f20" color="#231f20">CCL3 Ab</text>
<text transform="translate(133.05 505.00) rotate(-45) scale(0.98 1)" font-size="8.5" text-anchor="end" fill="#231f20" color="#231f20">CCL4 Ab</text>
<text transform="translate(146.90 505.00) rotate(-45) scale(0.98 1)" font-size="8.5" text-anchor="end" fill="#231f20" color="#231f20">CCL5 Ab</text>
<text transform="translate(160.75 505.00) rotate(-45) scale(0.98 1)" font-size="8.5" text-anchor="end" fill="#231f20" color="#231f20">Mix Ab</text>
<line x1="53.70" y1="535.20" x2="166.00" y2="535.20" stroke="#231f20" stroke-width="1.1"/>
<text x="109.40" y="546.00" font-size="8.5" text-anchor="middle" font-weight="normal" fill="#231f20" color="#231f20">Mino CM</text>
<text x="191.50" y="415.00" font-size="11.5" text-anchor="start" font-weight="bold" fill="#000" color="#000">G</text>
<line x1="230.60" y1="423.70" x2="230.60" y2="497.00" stroke="#231f20" stroke-width="1.25"/>
<line x1="227.60" y1="427.20" x2="230.60" y2="427.20" stroke="#231f20" stroke-width="1.2"/>
<text x="225.00" y="430.30" font-size="8.5" text-anchor="end" font-weight="normal" fill="#231f20" color="#231f20">4</text>
<line x1="227.60" y1="444.50" x2="230.60" y2="444.50" stroke="#231f20" stroke-width="1.2"/>
<text x="225.00" y="447.60" font-size="8.5" text-anchor="end" font-weight="normal" fill="#231f20" color="#231f20">3</text>
<line x1="227.60" y1="461.80" x2="230.60" y2="461.80" stroke="#231f20" stroke-width="1.2"/>
<text x="225.00" y="464.90" font-size="8.5" text-anchor="end" font-weight="normal" fill="#231f20" color="#231f20">2</text>
<line x1="227.60" y1="479.10" x2="230.60" y2="479.10" stroke="#231f20" stroke-width="1.2"/>
<text x="225.00" y="482.20" font-size="8.5" text-anchor="end" font-weight="normal" fill="#231f20" color="#231f20">1</text>
<line x1="227.60" y1="496.40" x2="230.60" y2="496.40" stroke="#231f20" stroke-width="1.2"/>
<text x="225.00" y="499.50" font-size="8.5" text-anchor="end" font-weight="normal" fill="#231f20" color="#231f20">0</text>
<line x1="230.00" y1="496.40" x2="338.80" y2="496.40" stroke="#231f20" stroke-width="1.25"/>
<line x1="237.50" y1="496.40" x2="237.50" y2="499.40" stroke="#231f20" stroke-width="1.2"/>
<line x1="250.95" y1="496.40" x2="250.95" y2="499.40" stroke="#231f20" stroke-width="1.2"/>
<line x1="264.40" y1="496.40" x2="264.40" y2="499.40" stroke="#231f20" stroke-width="1.2"/>
<line x1="277.85" y1="496.40" x2="277.85" y2="499.40" stroke="#231f20" stroke-width="1.2"/>
<line x1="291.30" y1="496.40" x2="291.30" y2="499.40" stroke="#231f20" stroke-width="1.2"/>
<line x1="304.75" y1="496.40" x2="304.75" y2="499.40" stroke="#231f20" stroke-width="1.2"/>
<line x1="318.20" y1="496.40" x2="318.20" y2="499.40" stroke="#231f20" stroke-width="1.2"/>
<line x1="331.65" y1="496.40" x2="331.65" y2="499.40" stroke="#231f20" stroke-width="1.2"/>
<line x1="237.50" y1="476.00" x2="237.50" y2="480.10" stroke="#333" stroke-width="1.2"/>
<line x1="234.50" y1="476.00" x2="240.50" y2="476.00" stroke="#333" stroke-width="1.3"/>
<rect x="232.85" y="479.10" width="9.30" height="17.30" fill="#754719"/>
<line x1="250.95" y1="440.70" x2="250.95" y2="447.90" stroke="#333" stroke-width="1.2"/>
<line x1="247.95" y1="440.70" x2="253.95" y2="440.70" stroke="#333" stroke-width="1.3"/>
<rect x="246.30" y="446.90" width="9.30" height="49.50" fill="#c8791f"/>
<line x1="264.40" y1="435.80" x2="264.40" y2="443.80" stroke="#333" stroke-width="1.2"/>
<line x1="261.40" y1="435.80" x2="267.40" y2="435.80" stroke="#333" stroke-width="1.3"/>
<rect x="259.75" y="442.80" width="9.30" height="53.60" fill="#ec168c"/>
<line x1="277.85" y1="449.30" x2="277.85" y2="458.70" stroke="#333" stroke-width="1.2"/>
<line x1="274.85" y1="449.30" x2="280.85" y2="449.30" stroke="#333" stroke-width="1.3"/>
<rect x="273.20" y="457.70" width="9.30" height="38.70" fill="#c9c8cc"/>
<line x1="291.30" y1="472.50" x2="291.30" y2="476.30" stroke="#333" stroke-width="1.2"/>
<line x1="288.30" y1="472.50" x2="294.30" y2="472.50" stroke="#333" stroke-width="1.3"/>
<rect x="286.65" y="475.30" width="9.30" height="21.10" fill="#c8102e"/>
<line x1="304.75" y1="443.10" x2="304.75" y2="453.50" stroke="#333" stroke-width="1.2"/>
<line x1="301.75" y1="443.10" x2="307.75" y2="443.10" stroke="#333" stroke-width="1.3"/>
<rect x="300.10" y="452.50" width="9.30" height="43.90" fill="#1b4f8a"/>
<line x1="318.20" y1="449.70" x2="318.20" y2="459.70" stroke="#333" stroke-width="1.2"/>
<line x1="315.20" y1="449.70" x2="321.20" y2="449.70" stroke="#333" stroke-width="1.3"/>
<rect x="313.55" y="458.70" width="9.30" height="37.70" fill="#3aaa46"/>
<line x1="331.65" y1="477.70" x2="331.65" y2="480.80" stroke="#333" stroke-width="1.2"/>
<line x1="328.65" y1="477.70" x2="334.65" y2="477.70" stroke="#333" stroke-width="1.3"/>
<rect x="327.00" y="479.80" width="9.30" height="16.60" fill="#6b2a7c"/>
<line x1="245.50" y1="430.30" x2="297.40" y2="430.30" stroke="#333" stroke-width="1.2"/>
<text x="271.45" y="428.60" font-size="7.5" text-anchor="middle" font-weight="bold" fill="#231f20" color="#231f20">**</text>
<text x="214.50" y="459.40" font-size="11.5" text-anchor="middle" class="yl" fill="#231f20" color="#231f20" transform="rotate(-90 214.50 459.40)" textLength="75" lengthAdjust="spacingAndGlyphs">Relative THP1 migration</text>
<text transform="translate(240.00 505.00) rotate(-45) scale(0.98 1)" font-size="8.5" text-anchor="end" fill="#231f20" color="#231f20">Medium</text>
<text transform="translate(253.45 505.00) rotate(-45) scale(0.98 1)" font-size="8.5" text-anchor="end" fill="#231f20" color="#231f20">Isotype 1</text>
<text transform="translate(266.90 505.00) rotate(-45) scale(0.98 1)" font-size="8.5" text-anchor="end" fill="#231f20" color="#231f20">Isotype 2</text>
<text transform="translate(280.35 505.00) rotate(-45) scale(0.98 1)" font-size="8.5" text-anchor="end" fill="#231f20" color="#231f20">CCL2 Ab</text>
<text transform="translate(293.80 505.00) rotate(-45) scale(0.98 1)" font-size="8.5" text-anchor="end" fill="#231f20" color="#231f20">CCL3 Ab</text>
<text transform="translate(307.25 505.00) rotate(-45) scale(0.98 1)" font-size="8.5" text-anchor="end" fill="#231f20" color="#231f20">CCL4 Ab</text>
<text transform="translate(320.70 505.00) rotate(-45) scale(0.98 1)" font-size="8.5" text-anchor="end" fill="#231f20" color="#231f20">CCL5 Ab</text>
<text transform="translate(334.15 505.00) rotate(-45) scale(0.98 1)" font-size="8.5" text-anchor="end" fill="#231f20" color="#231f20">Mix Ab</text>
<line x1="230.60" y1="535.20" x2="342.00" y2="535.20" stroke="#231f20" stroke-width="1.1"/>
<text x="286.60" y="546.00" font-size="8.5" text-anchor="middle" font-weight="normal" fill="#231f20" color="#231f20">Granta CM</text>
<text x="369.20" y="415.00" font-size="11.5" text-anchor="start" font-weight="bold" fill="#000" color="#000">H</text>
<line x1="407.80" y1="429.60" x2="407.80" y2="497.00" stroke="#231f20" stroke-width="1.25"/>
<line x1="404.80" y1="433.10" x2="407.80" y2="433.10" stroke="#231f20" stroke-width="1.2"/>
<text x="402.20" y="436.20" font-size="8.5" text-anchor="end" font-weight="normal" fill="#231f20" color="#231f20">6</text>
<line x1="404.80" y1="454.20" x2="407.80" y2="454.20" stroke="#231f20" stroke-width="1.2"/>
<text x="402.20" y="457.30" font-size="8.5" text-anchor="end" font-weight="normal" fill="#231f20" color="#231f20">4</text>
<line x1="404.80" y1="475.30" x2="407.80" y2="475.30" stroke="#231f20" stroke-width="1.2"/>
<text x="402.20" y="478.40" font-size="8.5" text-anchor="end" font-weight="normal" fill="#231f20" color="#231f20">2</text>
<line x1="404.80" y1="496.40" x2="407.80" y2="496.40" stroke="#231f20" stroke-width="1.2"/>
<text x="402.20" y="499.50" font-size="8.5" text-anchor="end" font-weight="normal" fill="#231f20" color="#231f20">0</text>
<line x1="407.20" y1="496.40" x2="516.50" y2="496.40" stroke="#231f20" stroke-width="1.25"/>
<line x1="414.80" y1="496.40" x2="414.80" y2="499.40" stroke="#231f20" stroke-width="1.2"/>
<line x1="428.33" y1="496.40" x2="428.33" y2="499.40" stroke="#231f20" stroke-width="1.2"/>
<line x1="441.86" y1="496.40" x2="441.86" y2="499.40" stroke="#231f20" stroke-width="1.2"/>
<line x1="455.39" y1="496.40" x2="455.39" y2="499.40" stroke="#231f20" stroke-width="1.2"/>
<line x1="468.92" y1="496.40" x2="468.92" y2="499.40" stroke="#231f20" stroke-width="1.2"/>
<line x1="482.45" y1="496.40" x2="482.45" y2="499.40" stroke="#231f20" stroke-width="1.2"/>
<line x1="495.98" y1="496.40" x2="495.98" y2="499.40" stroke="#231f20" stroke-width="1.2"/>
<line x1="509.51" y1="496.40" x2="509.51" y2="499.40" stroke="#231f20" stroke-width="1.2"/>
<line x1="414.80" y1="482.90" x2="414.80" y2="487.00" stroke="#333" stroke-width="1.2"/>
<line x1="411.80" y1="482.90" x2="417.80" y2="482.90" stroke="#333" stroke-width="1.3"/>
<rect x="410.15" y="486.00" width="9.30" height="10.40" fill="#754719"/>
<line x1="428.33" y1="438.30" x2="428.33" y2="445.50" stroke="#333" stroke-width="1.2"/>
<line x1="425.33" y1="438.30" x2="431.33" y2="438.30" stroke="#333" stroke-width="1.3"/>
<rect x="423.68" y="444.50" width="9.30" height="51.90" fill="#c8791f"/>
<line x1="441.86" y1="445.90" x2="441.86" y2="450.00" stroke="#333" stroke-width="1.2"/>
<line x1="438.86" y1="445.90" x2="444.86" y2="445.90" stroke="#333" stroke-width="1.3"/>
<rect x="437.21" y="449.00" width="9.30" height="47.40" fill="#ec168c"/>
<line x1="455.39" y1="445.50" x2="455.39" y2="451.40" stroke="#333" stroke-width="1.2"/>
<line x1="452.39" y1="445.50" x2="458.39" y2="445.50" stroke="#333" stroke-width="1.3"/>
<rect x="450.74" y="450.40" width="9.30" height="46.00" fill="#c9c8cc"/>
<line x1="468.92" y1="478.40" x2="468.92" y2="482.90" stroke="#333" stroke-width="1.2"/>
<line x1="465.92" y1="478.40" x2="471.92" y2="478.40" stroke="#333" stroke-width="1.3"/>
<rect x="464.27" y="481.90" width="9.30" height="14.50" fill="#c8102e"/>
<line x1="482.45" y1="452.80" x2="482.45" y2="458.70" stroke="#333" stroke-width="1.2"/>
<line x1="479.45" y1="452.80" x2="485.45" y2="452.80" stroke="#333" stroke-width="1.3"/>
<rect x="477.80" y="457.70" width="9.30" height="38.70" fill="#1b4f8a"/>
<line x1="495.98" y1="450.40" x2="495.98" y2="456.90" stroke="#333" stroke-width="1.2"/>
<line x1="492.98" y1="450.40" x2="498.98" y2="450.40" stroke="#333" stroke-width="1.3"/>
<rect x="491.33" y="455.90" width="9.30" height="40.50" fill="#3aaa46"/>
<line x1="509.51" y1="483.30" x2="509.51" y2="486.30" stroke="#333" stroke-width="1.2"/>
<line x1="506.51" y1="483.30" x2="512.51" y2="483.30" stroke="#333" stroke-width="1.3"/>
<rect x="504.86" y="485.30" width="9.30" height="11.10" fill="#6b2a7c"/>
<line x1="424.90" y1="433.90" x2="473.90" y2="433.90" stroke="#5a5a5a" stroke-width="1.6"/>
<text x="449.40" y="432.20" font-size="7.5" text-anchor="middle" font-weight="bold" fill="#231f20" color="#231f20">**</text>
<text x="390.50" y="463.00" font-size="11.5" text-anchor="middle" class="yl" fill="#231f20" color="#231f20" transform="rotate(-90 390.50 463.00)" textLength="75" lengthAdjust="spacingAndGlyphs">Relative THP1 migration</text>
<text transform="translate(417.30 505.00) rotate(-45) scale(0.98 1)" font-size="8.5" text-anchor="end" fill="#231f20" color="#231f20">Medium</text>
<text transform="translate(430.83 505.00) rotate(-45) scale(0.98 1)" font-size="8.5" text-anchor="end" fill="#231f20" color="#231f20">Isotype 1</text>
<text transform="translate(444.36 505.00) rotate(-45) scale(0.98 1)" font-size="8.5" text-anchor="end" fill="#231f20" color="#231f20">Isotype 2</text>
<text transform="translate(457.89 505.00) rotate(-45) scale(0.98 1)" font-size="8.5" text-anchor="end" fill="#231f20" color="#231f20">CCL2 Ab</text>
<text transform="translate(471.42 505.00) rotate(-45) scale(0.98 1)" font-size="8.5" text-anchor="end" fill="#231f20" color="#231f20">CCL3 Ab</text>
<text transform="translate(484.95 505.00) rotate(-45) scale(0.98 1)" font-size="8.5" text-anchor="end" fill="#231f20" color="#231f20">CCL4 Ab</text>
<text transform="translate(498.48 505.00) rotate(-45) scale(0.98 1)" font-size="8.5" text-anchor="end" fill="#231f20" color="#231f20">CCL5 Ab</text>
<text transform="translate(512.01 505.00) rotate(-45) scale(0.98 1)" font-size="8.5" text-anchor="end" fill="#231f20" color="#231f20">Mix Ab</text>
<line x1="407.50" y1="535.20" x2="520.00" y2="535.20" stroke="#231f20" stroke-width="1.1"/>
<text x="463.60" y="546.00" font-size="8.5" text-anchor="middle" font-weight="normal" fill="#231f20" color="#231f20">JVM2 CM</text>
<text x="104.20" y="567.70" font-size="11.5" text-anchor="start" font-weight="bold" fill="#000" color="#000">I</text>
<line x1="157.80" y1="575.30" x2="157.80" y2="653.00" stroke="#231f20" stroke-width="1.25"/>
<line x1="154.80" y1="578.30" x2="157.80" y2="578.30" stroke="#231f20" stroke-width="1.2"/>
<text x="152.20" y="581.40" font-size="8.5" text-anchor="end" font-weight="normal" fill="#231f20" color="#231f20">6</text>
<line x1="154.80" y1="603.10" x2="157.80" y2="603.10" stroke="#231f20" stroke-width="1.2"/>
<text x="152.20" y="606.20" font-size="8.5" text-anchor="end" font-weight="normal" fill="#231f20" color="#231f20">4</text>
<line x1="154.80" y1="628.00" x2="157.80" y2="628.00" stroke="#231f20" stroke-width="1.2"/>
<text x="152.20" y="631.10" font-size="8.5" text-anchor="end" font-weight="normal" fill="#231f20" color="#231f20">2</text>
<line x1="154.80" y1="652.40" x2="157.80" y2="652.40" stroke="#231f20" stroke-width="1.2"/>
<text x="152.20" y="655.50" font-size="8.5" text-anchor="end" font-weight="normal" fill="#231f20" color="#231f20">0</text>
<line x1="157.20" y1="652.40" x2="275.40" y2="652.40" stroke="#231f20" stroke-width="1.25"/>
<line x1="169.60" y1="652.40" x2="169.60" y2="655.40" stroke="#231f20" stroke-width="1.2"/>
<line x1="193.30" y1="652.40" x2="193.30" y2="655.40" stroke="#231f20" stroke-width="1.2"/>
<line x1="216.80" y1="652.40" x2="216.80" y2="655.40" stroke="#231f20" stroke-width="1.2"/>
<line x1="240.50" y1="652.40" x2="240.50" y2="655.40" stroke="#231f20" stroke-width="1.2"/>
<line x1="264.20" y1="652.40" x2="264.20" y2="655.40" stroke="#231f20" stroke-width="1.2"/>
<line x1="169.60" y1="636.50" x2="169.60" y2="641.80" stroke="#333" stroke-width="1.2"/>
<line x1="165.10" y1="636.50" x2="174.10" y2="636.50" stroke="#333" stroke-width="1.3"/>
<rect x="161.35" y="640.80" width="16.50" height="11.60" fill="#754719"/>
<line x1="193.30" y1="596.00" x2="193.30" y2="606.30" stroke="#333" stroke-width="1.2"/>
<line x1="188.80" y1="596.00" x2="197.80" y2="596.00" stroke="#333" stroke-width="1.3"/>
<rect x="185.05" y="605.30" width="16.50" height="47.10" fill="#c9c8cc"/>
<line x1="216.80" y1="623.90" x2="216.80" y2="632.20" stroke="#333" stroke-width="1.2"/>
<line x1="212.30" y1="623.90" x2="221.30" y2="623.90" stroke="#333" stroke-width="1.3"/>
<rect x="208.55" y="631.20" width="16.50" height="21.20" fill="#c8102e"/>
<line x1="240.50" y1="591.30" x2="240.50" y2="601.20" stroke="#333" stroke-width="1.2"/>
<line x1="236.00" y1="591.30" x2="245.00" y2="591.30" stroke="#333" stroke-width="1.3"/>
<rect x="232.25" y="600.20" width="16.50" height="52.20" fill="#c9c8cc"/>
<line x1="264.20" y1="628.80" x2="264.20" y2="635.20" stroke="#333" stroke-width="1.2"/>
<line x1="259.70" y1="628.80" x2="268.70" y2="628.80" stroke="#333" stroke-width="1.3"/>
<rect x="255.95" y="634.20" width="16.50" height="18.20" fill="#c8102e"/>
<text x="216.80" y="623.30" font-size="7.5" text-anchor="middle" font-weight="bold" fill="#231f20" color="#231f20">*</text>
<text x="264.20" y="627.30" font-size="7.5" text-anchor="middle" font-weight="bold" fill="#231f20" color="#231f20">**</text>
<text x="141.00" y="613.70" font-size="11.5" text-anchor="middle" class="yl" fill="#231f20" color="#231f20" transform="rotate(-90 141.00 613.70)" textLength="75" lengthAdjust="spacingAndGlyphs">Relative CD14 migration</text>
<text transform="translate(172.10 661.00) rotate(-45) scale(0.98 1)" font-size="8.5" text-anchor="end" fill="#231f20" color="#231f20">Medium</text>
<text transform="translate(195.80 661.00) rotate(-45) scale(0.98 1)" font-size="8.5" text-anchor="end" fill="#231f20" color="#231f20">Isotype</text>
<text transform="translate(219.30 661.00) rotate(-45) scale(0.98 1)" font-size="8.5" text-anchor="end" fill="#231f20" color="#231f20">CCL3 Ab</text>
<text transform="translate(243.00 661.00) rotate(-45) scale(0.98 1)" font-size="8.5" text-anchor="end" fill="#231f20" color="#231f20">Isotype</text>
<text transform="translate(266.70 661.00) rotate(-45) scale(0.98 1)" font-size="8.5" text-anchor="end" fill="#231f20" color="#231f20">CCL3 Ab</text>
<line x1="181.10" y1="692.30" x2="225.00" y2="692.30" stroke="#231f20" stroke-width="1.1"/>
<line x1="227.90" y1="692.30" x2="272.50" y2="692.30" stroke="#231f20" stroke-width="1.1"/>
<text x="200.50" y="703.00" font-size="8.5" text-anchor="middle" font-weight="normal" fill="#231f20" color="#231f20">Mino CM</text>
<text x="248.70" y="703.00" font-size="8.5" text-anchor="middle" font-weight="normal" fill="#231f20" color="#231f20">Granta CM</text>
<text x="292.20" y="567.70" font-size="11.5" text-anchor="start" font-weight="bold" fill="#000" color="#000">J</text>
<line x1="326.80" y1="575.30" x2="326.80" y2="653.00" stroke="#231f20" stroke-width="1.25"/>
<line x1="323.80" y1="578.30" x2="326.80" y2="578.30" stroke="#231f20" stroke-width="1.2"/>
<text x="321.20" y="581.40" font-size="8.5" text-anchor="end" font-weight="normal" fill="#231f20" color="#231f20">3</text>
<line x1="323.80" y1="603.10" x2="326.80" y2="603.10" stroke="#231f20" stroke-width="1.2"/>
<text x="321.20" y="606.20" font-size="8.5" text-anchor="end" font-weight="normal" fill="#231f20" color="#231f20">2</text>
<line x1="323.80" y1="628.00" x2="326.80" y2="628.00" stroke="#231f20" stroke-width="1.2"/>
<text x="321.20" y="631.10" font-size="8.5" text-anchor="end" font-weight="normal" fill="#231f20" color="#231f20">1</text>
<line x1="323.80" y1="652.40" x2="326.80" y2="652.40" stroke="#231f20" stroke-width="1.2"/>
<text x="321.20" y="655.50" font-size="8.5" text-anchor="end" font-weight="normal" fill="#231f20" color="#231f20">0</text>
<line x1="326.20" y1="652.40" x2="413.40" y2="652.40" stroke="#231f20" stroke-width="1.25"/>
<line x1="341.70" y1="652.40" x2="341.70" y2="655.40" stroke="#231f20" stroke-width="1.2"/>
<line x1="371.20" y1="652.40" x2="371.20" y2="655.40" stroke="#231f20" stroke-width="1.2"/>
<line x1="400.80" y1="652.40" x2="400.80" y2="655.40" stroke="#231f20" stroke-width="1.2"/>
<line x1="341.70" y1="622.10" x2="341.70" y2="629.00" stroke="#333" stroke-width="1.2"/>
<line x1="338.95" y1="622.10" x2="344.45" y2="622.10" stroke="#333" stroke-width="1.3"/>
<rect x="332.10" y="628.00" width="19.20" height="24.40" fill="#a7be82"/>
<line x1="371.20" y1="584.70" x2="371.20" y2="595.70" stroke="#333" stroke-width="1.2"/>
<line x1="368.45" y1="584.70" x2="373.95" y2="584.70" stroke="#333" stroke-width="1.3"/>
<rect x="361.60" y="594.70" width="19.20" height="57.70" fill="#c9c8cc"/>
<line x1="400.80" y1="607.00" x2="400.80" y2="616.10" stroke="#333" stroke-width="1.2"/>
<line x1="398.05" y1="607.00" x2="403.55" y2="607.00" stroke="#333" stroke-width="1.3"/>
<rect x="391.20" y="615.10" width="19.20" height="37.30" fill="#c8102e"/>
<text x="371.20" y="582.60" font-size="7.5" text-anchor="middle" font-weight="bold" fill="#231f20" color="#231f20">**</text>
<text x="310.20" y="613.50" font-size="11.5" text-anchor="middle" class="yl" fill="#231f20" color="#231f20" transform="rotate(-90 310.20 613.50)" textLength="75" lengthAdjust="spacingAndGlyphs">Relative CD14 migration</text>
<text transform="translate(344.20 661.00) rotate(-45) scale(0.9 1)" font-size="8.5" text-anchor="end" fill="#231f20" color="#231f20">Normal plasma</text>
<text transform="translate(373.70 661.00) rotate(-45) scale(0.98 1)" font-size="8.5" text-anchor="end" fill="#231f20" color="#231f20">Isotype</text>
<text transform="translate(403.30 661.00) rotate(-45) scale(0.98 1)" font-size="8.5" text-anchor="end" fill="#231f20" color="#231f20">CCL3 Ab</text>
<line x1="356.00" y1="692.30" x2="405.30" y2="692.30" stroke="#231f20" stroke-width="1.1"/>
<text x="380.50" y="703.00" font-size="8.5" text-anchor="middle" font-weight="normal" fill="#231f20" color="#231f20">Patients' plasma</text>
</svg>
</body></html>
